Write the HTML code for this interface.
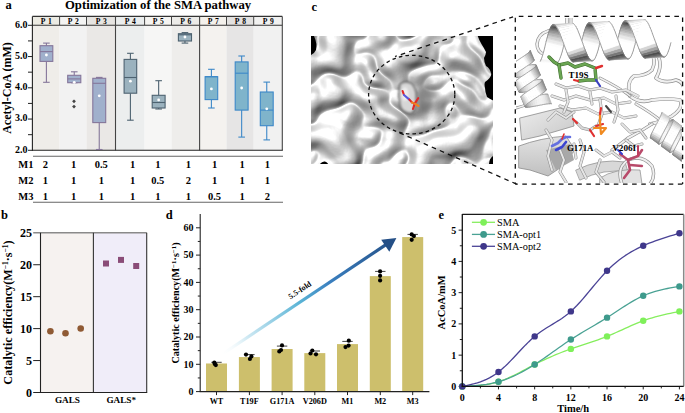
<!DOCTYPE html>
<html><head><meta charset="utf-8"><style>
html,body{margin:0;padding:0;background:#fff;}
svg{display:block;font-family:"Liberation Serif", serif;}
</style></head><body>
<svg width="685" height="413" viewBox="0 0 685 413">
<text x="5.60" y="9.20" font-size="12.5" font-weight="bold" text-anchor="start" fill="#000" >a</text>
<text x="65.00" y="8.90" font-size="12.7" font-weight="bold" text-anchor="start" fill="#000" >Optimization of the SMA pathway</text>
<rect x="32.40" y="16.40" width="27.20" height="8.80" fill="#ecebe3" stroke="none" stroke-width="0" />
<rect x="32.40" y="25.20" width="27.20" height="125.10" fill="#efede9" stroke="none" stroke-width="0" />
<rect x="59.60" y="16.40" width="26.90" height="8.80" fill="#f4f4f3" stroke="none" stroke-width="0" />
<rect x="59.60" y="25.20" width="26.90" height="125.10" fill="#f2f2f2" stroke="none" stroke-width="0" />
<rect x="86.50" y="16.40" width="29.00" height="8.80" fill="#e6e4e1" stroke="none" stroke-width="0" />
<rect x="86.50" y="25.20" width="29.00" height="125.10" fill="#eae8e6" stroke="none" stroke-width="0" />
<rect x="115.50" y="16.40" width="29.10" height="8.80" fill="#eaeded" stroke="none" stroke-width="0" />
<rect x="115.50" y="25.20" width="29.10" height="125.10" fill="#eceeee" stroke="none" stroke-width="0" />
<rect x="144.60" y="16.40" width="26.90" height="8.80" fill="#f5f4f1" stroke="none" stroke-width="0" />
<rect x="144.60" y="25.20" width="26.90" height="125.10" fill="#f6f6f5" stroke="none" stroke-width="0" />
<rect x="171.50" y="16.40" width="28.10" height="8.80" fill="#ecebe8" stroke="none" stroke-width="0" />
<rect x="171.50" y="25.20" width="28.10" height="125.10" fill="#eeedeb" stroke="none" stroke-width="0" />
<rect x="199.60" y="16.40" width="26.90" height="8.80" fill="#f4f1ec" stroke="none" stroke-width="0" />
<rect x="199.60" y="25.20" width="26.90" height="125.10" fill="#f4f2ef" stroke="none" stroke-width="0" />
<rect x="226.50" y="16.40" width="27.20" height="8.80" fill="#e2e1e0" stroke="none" stroke-width="0" />
<rect x="226.50" y="25.20" width="27.20" height="125.10" fill="#e6e5e5" stroke="none" stroke-width="0" />
<rect x="253.70" y="16.40" width="28.60" height="8.80" fill="#f1f1f0" stroke="none" stroke-width="0" />
<rect x="253.70" y="25.20" width="28.60" height="125.10" fill="#f1f1f1" stroke="none" stroke-width="0" />
<text x="46.60" y="23.60" font-size="7.6" font-weight="bold" text-anchor="middle" fill="#000" letter-spacing="0.6">P 1</text>
<text x="73.65" y="23.60" font-size="7.6" font-weight="bold" text-anchor="middle" fill="#000" letter-spacing="0.6">P 2</text>
<text x="101.60" y="23.60" font-size="7.6" font-weight="bold" text-anchor="middle" fill="#000" letter-spacing="0.6">P 3</text>
<text x="130.65" y="23.60" font-size="7.6" font-weight="bold" text-anchor="middle" fill="#000" letter-spacing="0.6">P 4</text>
<text x="158.65" y="23.60" font-size="7.6" font-weight="bold" text-anchor="middle" fill="#000" letter-spacing="0.6">P 5</text>
<text x="186.15" y="23.60" font-size="7.6" font-weight="bold" text-anchor="middle" fill="#000" letter-spacing="0.6">P 6</text>
<text x="213.65" y="23.60" font-size="7.6" font-weight="bold" text-anchor="middle" fill="#000" letter-spacing="0.6">P 7</text>
<text x="240.70" y="23.60" font-size="7.6" font-weight="bold" text-anchor="middle" fill="#000" letter-spacing="0.6">P 8</text>
<text x="268.60" y="23.60" font-size="7.6" font-weight="bold" text-anchor="middle" fill="#000" letter-spacing="0.6">P 9</text>
<line x1="32.40" y1="16.40" x2="282.30" y2="16.40" stroke="#333" stroke-width="1.1" />
<line x1="32.40" y1="25.20" x2="282.30" y2="25.20" stroke="#333" stroke-width="1.1" />
<line x1="59.60" y1="16.40" x2="59.60" y2="25.20" stroke="#444" stroke-width="1.0" />
<line x1="86.50" y1="16.40" x2="86.50" y2="25.20" stroke="#444" stroke-width="1.0" />
<line x1="115.50" y1="16.40" x2="115.50" y2="150.30" stroke="#444" stroke-width="1.1" />
<line x1="144.60" y1="16.40" x2="144.60" y2="25.20" stroke="#444" stroke-width="1.0" />
<line x1="171.50" y1="16.40" x2="171.50" y2="25.20" stroke="#444" stroke-width="1.0" />
<line x1="199.60" y1="16.40" x2="199.60" y2="150.30" stroke="#444" stroke-width="1.1" />
<line x1="226.50" y1="16.40" x2="226.50" y2="25.20" stroke="#444" stroke-width="1.0" />
<line x1="253.70" y1="16.40" x2="253.70" y2="25.20" stroke="#444" stroke-width="1.0" />
<line x1="282.30" y1="16.40" x2="282.30" y2="150.30" stroke="#444" stroke-width="1.1" />
<line x1="32.40" y1="16.40" x2="32.40" y2="150.80" stroke="#222" stroke-width="1.1" />
<line x1="31.90" y1="150.30" x2="282.80" y2="150.30" stroke="#222" stroke-width="1.1" />
<line x1="28.00" y1="150.30" x2="32.40" y2="150.30" stroke="#222" stroke-width="1.0" />
<text x="27.60" y="152.60" font-size="10" font-weight="bold" text-anchor="end" fill="#000" >2.0</text>
<line x1="28.00" y1="134.68" x2="32.40" y2="134.68" stroke="#222" stroke-width="1.0" />
<line x1="28.00" y1="119.05" x2="32.40" y2="119.05" stroke="#222" stroke-width="1.0" />
<text x="27.60" y="121.35" font-size="10" font-weight="bold" text-anchor="end" fill="#000" >3.0</text>
<line x1="28.00" y1="103.42" x2="32.40" y2="103.42" stroke="#222" stroke-width="1.0" />
<line x1="28.00" y1="87.80" x2="32.40" y2="87.80" stroke="#222" stroke-width="1.0" />
<text x="27.60" y="90.10" font-size="10" font-weight="bold" text-anchor="end" fill="#000" >4.0</text>
<line x1="28.00" y1="72.17" x2="32.40" y2="72.17" stroke="#222" stroke-width="1.0" />
<line x1="28.00" y1="56.55" x2="32.40" y2="56.55" stroke="#222" stroke-width="1.0" />
<text x="27.60" y="58.85" font-size="10" font-weight="bold" text-anchor="end" fill="#000" >5.0</text>
<line x1="28.00" y1="40.92" x2="32.40" y2="40.92" stroke="#222" stroke-width="1.0" />
<line x1="28.00" y1="25.30" x2="32.40" y2="25.30" stroke="#222" stroke-width="1.0" />
<text x="27.60" y="27.60" font-size="10" font-weight="bold" text-anchor="end" fill="#000" >6.0</text>
<text transform="translate(11.2,88) rotate(-90)" font-size="12" font-weight="bold" text-anchor="middle">Acetyl-CoA (mM)</text>
<line x1="46.40" y1="43.10" x2="46.40" y2="45.70" stroke="#85769a" stroke-width="1.1" />
<line x1="46.40" y1="61.40" x2="46.40" y2="82.30" stroke="#85769a" stroke-width="1.1" />
<line x1="43.10" y1="43.10" x2="49.70" y2="43.10" stroke="#85769a" stroke-width="1.1" />
<line x1="43.10" y1="82.30" x2="49.70" y2="82.30" stroke="#85769a" stroke-width="1.1" />
<rect x="40.00" y="45.70" width="12.80" height="15.70" fill="#a0b0cc" stroke="#85769a" stroke-width="1.1" />
<line x1="40.00" y1="51.60" x2="52.80" y2="51.60" stroke="#85769a" stroke-width="1.1" />
<circle cx="46.40" cy="55.00" r="1.4" fill="#fff"/>
<line x1="74.25" y1="71.80" x2="74.25" y2="75.30" stroke="#85769a" stroke-width="1.1" />
<line x1="74.25" y1="82.70" x2="74.25" y2="82.70" stroke="#85769a" stroke-width="1.1" />
<line x1="70.95" y1="71.80" x2="77.55" y2="71.80" stroke="#85769a" stroke-width="1.1" />
<line x1="70.95" y1="82.70" x2="77.55" y2="82.70" stroke="#85769a" stroke-width="1.1" />
<rect x="67.70" y="75.30" width="13.10" height="7.40" fill="#a0b0cc" stroke="#85769a" stroke-width="1.1" />
<line x1="67.70" y1="78.90" x2="80.80" y2="78.90" stroke="#85769a" stroke-width="1.1" />
<circle cx="74.25" cy="82.30" r="1.4" fill="#fff"/>
<line x1="99.25" y1="77.40" x2="99.25" y2="78.30" stroke="#85769a" stroke-width="1.1" />
<line x1="99.25" y1="122.60" x2="99.25" y2="149.50" stroke="#85769a" stroke-width="1.1" />
<line x1="95.95" y1="77.40" x2="102.55" y2="77.40" stroke="#85769a" stroke-width="1.1" />
<line x1="95.95" y1="149.50" x2="102.55" y2="149.50" stroke="#85769a" stroke-width="1.1" />
<rect x="92.80" y="78.30" width="12.90" height="44.30" fill="#a0b0cc" stroke="#85769a" stroke-width="1.1" />
<line x1="92.80" y1="83.30" x2="105.70" y2="83.30" stroke="#85769a" stroke-width="1.1" />
<circle cx="99.25" cy="95.80" r="1.4" fill="#fff"/>
<line x1="130.40" y1="53.30" x2="130.40" y2="59.40" stroke="#4d6270" stroke-width="1.1" />
<line x1="130.40" y1="93.20" x2="130.40" y2="120.20" stroke="#4d6270" stroke-width="1.1" />
<line x1="127.10" y1="53.30" x2="133.70" y2="53.30" stroke="#4d6270" stroke-width="1.1" />
<line x1="127.10" y1="120.20" x2="133.70" y2="120.20" stroke="#4d6270" stroke-width="1.1" />
<rect x="124.10" y="59.40" width="12.60" height="33.80" fill="#9bb2be" stroke="#4d6270" stroke-width="1.1" />
<line x1="124.10" y1="77.50" x2="136.70" y2="77.50" stroke="#4d6270" stroke-width="1.1" />
<circle cx="130.40" cy="81.20" r="1.4" fill="#fff"/>
<line x1="158.65" y1="80.70" x2="158.65" y2="95.30" stroke="#4d6270" stroke-width="1.1" />
<line x1="158.65" y1="108.00" x2="158.65" y2="109.00" stroke="#4d6270" stroke-width="1.1" />
<line x1="155.35" y1="80.70" x2="161.95" y2="80.70" stroke="#4d6270" stroke-width="1.1" />
<line x1="155.35" y1="109.00" x2="161.95" y2="109.00" stroke="#4d6270" stroke-width="1.1" />
<rect x="152.20" y="95.30" width="12.90" height="12.70" fill="#9bb2be" stroke="#4d6270" stroke-width="1.1" />
<line x1="152.20" y1="102.50" x2="165.10" y2="102.50" stroke="#4d6270" stroke-width="1.1" />
<circle cx="158.65" cy="99.90" r="1.4" fill="#fff"/>
<line x1="184.95" y1="32.60" x2="184.95" y2="33.70" stroke="#4d6270" stroke-width="1.1" />
<line x1="184.95" y1="41.00" x2="184.95" y2="43.10" stroke="#4d6270" stroke-width="1.1" />
<line x1="181.65" y1="32.60" x2="188.25" y2="32.60" stroke="#4d6270" stroke-width="1.1" />
<line x1="181.65" y1="43.10" x2="188.25" y2="43.10" stroke="#4d6270" stroke-width="1.1" />
<rect x="178.40" y="33.70" width="13.10" height="7.30" fill="#9bb2be" stroke="#4d6270" stroke-width="1.1" />
<line x1="178.40" y1="34.80" x2="191.50" y2="34.80" stroke="#4d6270" stroke-width="1.1" />
<circle cx="184.95" cy="37.00" r="1.4" fill="#fff"/>
<line x1="211.40" y1="69.30" x2="211.40" y2="76.70" stroke="#3d88c8" stroke-width="1.1" />
<line x1="211.40" y1="99.60" x2="211.40" y2="108.00" stroke="#3d88c8" stroke-width="1.1" />
<line x1="208.10" y1="69.30" x2="214.70" y2="69.30" stroke="#3d88c8" stroke-width="1.1" />
<line x1="208.10" y1="108.00" x2="214.70" y2="108.00" stroke="#3d88c8" stroke-width="1.1" />
<rect x="205.10" y="76.70" width="12.60" height="22.90" fill="#7fb4cb" stroke="#3d88c8" stroke-width="1.1" />
<line x1="205.10" y1="76.70" x2="217.70" y2="76.70" stroke="#3d88c8" stroke-width="1.1" />
<circle cx="211.40" cy="88.90" r="1.4" fill="#fff"/>
<line x1="241.65" y1="56.00" x2="241.65" y2="61.90" stroke="#3d88c8" stroke-width="1.1" />
<line x1="241.65" y1="110.10" x2="241.65" y2="137.10" stroke="#3d88c8" stroke-width="1.1" />
<line x1="238.35" y1="56.00" x2="244.95" y2="56.00" stroke="#3d88c8" stroke-width="1.1" />
<line x1="238.35" y1="137.10" x2="244.95" y2="137.10" stroke="#3d88c8" stroke-width="1.1" />
<rect x="235.20" y="61.90" width="12.90" height="48.20" fill="#7fb4cb" stroke="#3d88c8" stroke-width="1.1" />
<line x1="235.20" y1="73.20" x2="248.10" y2="73.20" stroke="#3d88c8" stroke-width="1.1" />
<circle cx="241.65" cy="88.00" r="1.4" fill="#fff"/>
<line x1="266.75" y1="82.10" x2="266.75" y2="92.00" stroke="#3d88c8" stroke-width="1.1" />
<line x1="266.75" y1="125.70" x2="266.75" y2="139.90" stroke="#3d88c8" stroke-width="1.1" />
<line x1="263.45" y1="82.10" x2="270.05" y2="82.10" stroke="#3d88c8" stroke-width="1.1" />
<line x1="263.45" y1="139.90" x2="270.05" y2="139.90" stroke="#3d88c8" stroke-width="1.1" />
<rect x="260.30" y="92.00" width="12.90" height="33.70" fill="#7fb4cb" stroke="#3d88c8" stroke-width="1.1" />
<line x1="260.30" y1="110.10" x2="273.20" y2="110.10" stroke="#3d88c8" stroke-width="1.1" />
<circle cx="266.75" cy="108.80" r="1.4" fill="#fff"/>
<path d="M74 99.39999999999999 L75.9 101.3 L74 103.2 L72.1 101.3 Z" fill="#444"/>
<path d="M74 104.69999999999999 L75.9 106.6 L74 108.5 L72.1 106.6 Z" fill="#444"/>
<line x1="33.00" y1="156.30" x2="283.00" y2="156.30" stroke="#666" stroke-width="1.1" />
<line x1="33.00" y1="202.30" x2="283.00" y2="202.30" stroke="#666" stroke-width="1.1" />
<text x="33.40" y="168.30" font-size="10.5" font-weight="bold" text-anchor="end" fill="#000" >M1</text>
<text x="45.30" y="168.30" font-size="10.5" font-weight="bold" text-anchor="middle" fill="#000" >2</text>
<text x="73.70" y="168.30" font-size="10.5" font-weight="bold" text-anchor="middle" fill="#000" >1</text>
<text x="101.30" y="168.30" font-size="10.5" font-weight="bold" text-anchor="middle" fill="#000" >0.5</text>
<text x="132.60" y="168.30" font-size="10.5" font-weight="bold" text-anchor="middle" fill="#000" >1</text>
<text x="157.80" y="168.30" font-size="10.5" font-weight="bold" text-anchor="middle" fill="#000" >1</text>
<text x="188.30" y="168.30" font-size="10.5" font-weight="bold" text-anchor="middle" fill="#000" >1</text>
<text x="214.50" y="168.30" font-size="10.5" font-weight="bold" text-anchor="middle" fill="#000" >1</text>
<text x="242.20" y="168.30" font-size="10.5" font-weight="bold" text-anchor="middle" fill="#000" >1</text>
<text x="267.40" y="168.30" font-size="10.5" font-weight="bold" text-anchor="middle" fill="#000" >1</text>
<text x="33.40" y="184.20" font-size="10.5" font-weight="bold" text-anchor="end" fill="#000" >M2</text>
<text x="45.30" y="184.20" font-size="10.5" font-weight="bold" text-anchor="middle" fill="#000" >1</text>
<text x="73.70" y="184.20" font-size="10.5" font-weight="bold" text-anchor="middle" fill="#000" >1</text>
<text x="101.30" y="184.20" font-size="10.5" font-weight="bold" text-anchor="middle" fill="#000" >1</text>
<text x="132.60" y="184.20" font-size="10.5" font-weight="bold" text-anchor="middle" fill="#000" >1</text>
<text x="157.80" y="184.20" font-size="10.5" font-weight="bold" text-anchor="middle" fill="#000" >0.5</text>
<text x="188.30" y="184.20" font-size="10.5" font-weight="bold" text-anchor="middle" fill="#000" >2</text>
<text x="214.50" y="184.20" font-size="10.5" font-weight="bold" text-anchor="middle" fill="#000" >1</text>
<text x="242.20" y="184.20" font-size="10.5" font-weight="bold" text-anchor="middle" fill="#000" >1</text>
<text x="267.40" y="184.20" font-size="10.5" font-weight="bold" text-anchor="middle" fill="#000" >1</text>
<text x="33.40" y="200.10" font-size="10.5" font-weight="bold" text-anchor="end" fill="#000" >M3</text>
<text x="45.30" y="200.10" font-size="10.5" font-weight="bold" text-anchor="middle" fill="#000" >1</text>
<text x="73.70" y="200.10" font-size="10.5" font-weight="bold" text-anchor="middle" fill="#000" >1</text>
<text x="101.30" y="200.10" font-size="10.5" font-weight="bold" text-anchor="middle" fill="#000" >1</text>
<text x="132.60" y="200.10" font-size="10.5" font-weight="bold" text-anchor="middle" fill="#000" >1</text>
<text x="157.80" y="200.10" font-size="10.5" font-weight="bold" text-anchor="middle" fill="#000" >1</text>
<text x="188.30" y="200.10" font-size="10.5" font-weight="bold" text-anchor="middle" fill="#000" >1</text>
<text x="214.50" y="200.10" font-size="10.5" font-weight="bold" text-anchor="middle" fill="#000" >0.5</text>
<text x="242.20" y="200.10" font-size="10.5" font-weight="bold" text-anchor="middle" fill="#000" >1</text>
<text x="267.40" y="200.10" font-size="10.5" font-weight="bold" text-anchor="middle" fill="#000" >2</text>
<text x="1.00" y="219.20" font-size="12.5" font-weight="bold" text-anchor="start" fill="#000" >b</text>
<rect x="40.50" y="232.80" width="52.90" height="159.70" fill="#f6f2f0" stroke="none" stroke-width="0" />
<rect x="93.40" y="232.80" width="53.30" height="159.70" fill="#f0edf9" stroke="none" stroke-width="0" />
<line x1="33.20" y1="232.80" x2="146.70" y2="232.80" stroke="#8a8a8a" stroke-width="1.4" />
<line x1="93.40" y1="232.80" x2="93.40" y2="392.50" stroke="#333" stroke-width="1.1" />
<line x1="146.70" y1="232.80" x2="146.70" y2="392.50" stroke="#333" stroke-width="1.1" />
<line x1="40.50" y1="232.80" x2="40.50" y2="392.50" stroke="#222" stroke-width="1.1" />
<line x1="40.00" y1="392.50" x2="147.20" y2="392.50" stroke="#222" stroke-width="1.1" />
<line x1="33.20" y1="392.50" x2="40.50" y2="392.50" stroke="#222" stroke-width="1.0" />
<text x="32.00" y="396.80" font-size="12" font-weight="bold" text-anchor="end" fill="#000" >0</text>
<line x1="33.20" y1="360.56" x2="40.50" y2="360.56" stroke="#222" stroke-width="1.0" />
<text x="32.00" y="364.86" font-size="12" font-weight="bold" text-anchor="end" fill="#000" >5</text>
<line x1="33.20" y1="328.62" x2="40.50" y2="328.62" stroke="#222" stroke-width="1.0" />
<text x="32.00" y="332.92" font-size="12" font-weight="bold" text-anchor="end" fill="#000" >10</text>
<line x1="33.20" y1="296.68" x2="40.50" y2="296.68" stroke="#222" stroke-width="1.0" />
<text x="32.00" y="300.98" font-size="12" font-weight="bold" text-anchor="end" fill="#000" >15</text>
<line x1="33.20" y1="264.74" x2="40.50" y2="264.74" stroke="#222" stroke-width="1.0" />
<text x="32.00" y="269.04" font-size="12" font-weight="bold" text-anchor="end" fill="#000" >20</text>
<text x="32.00" y="237.10" font-size="12" font-weight="bold" text-anchor="end" fill="#000" >25</text>
<text transform="translate(12.0,312.5) rotate(-90)" font-size="12.2" font-weight="bold" text-anchor="middle">Catalytic efficiency(M<tspan font-size="7.5" dy="-4">−1</tspan><tspan dy="4">·s</tspan><tspan font-size="7.5" dy="-4">−1</tspan><tspan dy="4">)</tspan></text>
<circle cx="50.4" cy="331.2" r="3.3" fill="#8f5a34"/>
<circle cx="65.5" cy="333.2" r="3.3" fill="#8f5a34"/>
<circle cx="80.7" cy="328.5" r="3.3" fill="#8f5a34"/>
<rect x="103.00" y="260.50" width="6.00" height="6.00" fill="#8a4c78" stroke="none" stroke-width="0" />
<rect x="118.00" y="256.90" width="6.00" height="6.00" fill="#8a4c78" stroke="none" stroke-width="0" />
<rect x="133.20" y="263.00" width="6.00" height="6.00" fill="#8a4c78" stroke="none" stroke-width="0" />
<text x="67.40" y="403.20" font-size="9.2" font-weight="bold" text-anchor="middle" fill="#000" >GALS</text>
<text x="121.20" y="403.20" font-size="9.2" font-weight="bold" text-anchor="middle" fill="#000" >GALS*</text>
<text x="165.80" y="219.30" font-size="12.5" font-weight="bold" text-anchor="start" fill="#000" >d</text>
<defs><linearGradient id="ag" gradientUnits="userSpaceOnUse" x1="221" y1="355" x2="396" y2="238"><stop offset="0" stop-color="#ffffff" stop-opacity="0"/><stop offset="0.15" stop-color="#cfe9f3"/><stop offset="0.45" stop-color="#5ab4d6"/><stop offset="0.62" stop-color="#3a7fbf"/><stop offset="1" stop-color="#244f86"/></linearGradient></defs>
<line x1="221" y1="355" x2="386" y2="244.6" stroke="url(#ag)" stroke-width="3.2"/>
<path d="M396.4 237.9 L381.2 239.8 L389.3 251.8 Z" fill="#244f86"/>
<text transform="translate(301.2,292.3) rotate(-33.6)" font-size="7.9" font-weight="bold" text-anchor="middle">5.5-fold</text>
<rect x="206.00" y="363.48" width="21.00" height="28.12" fill="#cdbf6c" stroke="none" stroke-width="0" />
<rect x="238.90" y="357.07" width="21.00" height="34.53" fill="#cdbf6c" stroke="none" stroke-width="0" />
<rect x="271.60" y="349.01" width="21.00" height="42.59" fill="#cdbf6c" stroke="none" stroke-width="0" />
<rect x="304.30" y="353.11" width="21.00" height="38.49" fill="#cdbf6c" stroke="none" stroke-width="0" />
<rect x="337.00" y="344.10" width="21.00" height="47.50" fill="#cdbf6c" stroke="none" stroke-width="0" />
<rect x="369.80" y="276.12" width="21.00" height="115.48" fill="#cdbf6c" stroke="none" stroke-width="0" />
<rect x="402.20" y="237.08" width="21.00" height="154.52" fill="#cdbf6c" stroke="none" stroke-width="0" />
<line x1="211.30" y1="362.30" x2="221.70" y2="362.30" stroke="#444" stroke-width="1.0" />
<circle cx="214.3" cy="362.6" r="2.1" fill="#000"/>
<circle cx="215.8" cy="365.1" r="2.1" fill="#000"/>
<circle cx="214.8" cy="364" r="2.1" fill="#000"/>
<line x1="216.50" y1="391.60" x2="216.50" y2="395.10" stroke="#222" stroke-width="1.0" />
<text x="216.50" y="403.80" font-size="8.2" font-weight="bold" text-anchor="middle" fill="#000" >WT</text>
<line x1="244.20" y1="354.60" x2="254.60" y2="354.60" stroke="#444" stroke-width="1.0" />
<circle cx="246.0" cy="354.6" r="2.1" fill="#000"/>
<circle cx="251.4" cy="356.4" r="2.1" fill="#000"/>
<circle cx="249.9" cy="359.0" r="2.1" fill="#000"/>
<line x1="249.40" y1="391.60" x2="249.40" y2="395.10" stroke="#222" stroke-width="1.0" />
<text x="249.40" y="403.80" font-size="8.2" font-weight="bold" text-anchor="middle" fill="#000" >T19F</text>
<line x1="276.90" y1="346.10" x2="287.30" y2="346.10" stroke="#444" stroke-width="1.0" />
<circle cx="282.0" cy="345.4" r="2.1" fill="#000"/>
<circle cx="281.0" cy="350.0" r="2.1" fill="#000"/>
<circle cx="279.3" cy="351.4" r="2.1" fill="#000"/>
<line x1="282.10" y1="391.60" x2="282.10" y2="395.10" stroke="#222" stroke-width="1.0" />
<text x="282.10" y="403.80" font-size="8.2" font-weight="bold" text-anchor="middle" fill="#000" >G171A</text>
<line x1="309.60" y1="351.00" x2="320.00" y2="351.00" stroke="#444" stroke-width="1.0" />
<circle cx="312.3" cy="350.6" r="2.1" fill="#000"/>
<circle cx="310.5" cy="353.5" r="2.1" fill="#000"/>
<circle cx="316.0" cy="354.3" r="2.1" fill="#000"/>
<line x1="314.80" y1="391.60" x2="314.80" y2="395.10" stroke="#222" stroke-width="1.0" />
<text x="314.80" y="403.80" font-size="8.2" font-weight="bold" text-anchor="middle" fill="#000" >V206D</text>
<line x1="342.30" y1="341.40" x2="352.70" y2="341.40" stroke="#444" stroke-width="1.0" />
<circle cx="348.8" cy="340.7" r="2.1" fill="#000"/>
<circle cx="348.6" cy="345.6" r="2.1" fill="#000"/>
<circle cx="345.5" cy="347.1" r="2.1" fill="#000"/>
<line x1="347.50" y1="391.60" x2="347.50" y2="395.10" stroke="#222" stroke-width="1.0" />
<text x="347.50" y="403.80" font-size="8.2" font-weight="bold" text-anchor="middle" fill="#000" >M1</text>
<line x1="375.10" y1="271.40" x2="385.50" y2="271.40" stroke="#444" stroke-width="1.0" />
<circle cx="380.1" cy="271.4" r="2.1" fill="#000"/>
<circle cx="380.1" cy="275.8" r="2.1" fill="#000"/>
<circle cx="380.1" cy="280.4" r="2.1" fill="#000"/>
<line x1="380.30" y1="391.60" x2="380.30" y2="395.10" stroke="#222" stroke-width="1.0" />
<text x="380.30" y="403.80" font-size="8.2" font-weight="bold" text-anchor="middle" fill="#000" >M2</text>
<line x1="407.50" y1="234.40" x2="417.90" y2="234.40" stroke="#444" stroke-width="1.0" />
<circle cx="411.7" cy="234.4" r="2.1" fill="#000"/>
<circle cx="413.9" cy="236.1" r="2.1" fill="#000"/>
<circle cx="411.7" cy="239.8" r="2.1" fill="#000"/>
<line x1="412.70" y1="391.60" x2="412.70" y2="395.10" stroke="#222" stroke-width="1.0" />
<text x="412.70" y="403.80" font-size="8.2" font-weight="bold" text-anchor="middle" fill="#000" >M3</text>
<line x1="200.20" y1="214.00" x2="200.20" y2="392.10" stroke="#222" stroke-width="1.1" />
<line x1="199.70" y1="391.60" x2="429.40" y2="391.60" stroke="#222" stroke-width="1.1" />
<line x1="196.00" y1="391.60" x2="200.20" y2="391.60" stroke="#222" stroke-width="1.0" />
<text x="193.60" y="394.90" font-size="10" font-weight="bold" text-anchor="end" fill="#000" >0</text>
<line x1="197.80" y1="377.95" x2="200.20" y2="377.95" stroke="#222" stroke-width="1.0" />
<line x1="196.00" y1="364.30" x2="200.20" y2="364.30" stroke="#222" stroke-width="1.0" />
<text x="193.60" y="367.60" font-size="10" font-weight="bold" text-anchor="end" fill="#000" >10</text>
<line x1="197.80" y1="350.65" x2="200.20" y2="350.65" stroke="#222" stroke-width="1.0" />
<line x1="196.00" y1="337.00" x2="200.20" y2="337.00" stroke="#222" stroke-width="1.0" />
<text x="193.60" y="340.30" font-size="10" font-weight="bold" text-anchor="end" fill="#000" >20</text>
<line x1="197.80" y1="323.35" x2="200.20" y2="323.35" stroke="#222" stroke-width="1.0" />
<line x1="196.00" y1="309.70" x2="200.20" y2="309.70" stroke="#222" stroke-width="1.0" />
<text x="193.60" y="313.00" font-size="10" font-weight="bold" text-anchor="end" fill="#000" >30</text>
<line x1="197.80" y1="296.05" x2="200.20" y2="296.05" stroke="#222" stroke-width="1.0" />
<line x1="196.00" y1="282.40" x2="200.20" y2="282.40" stroke="#222" stroke-width="1.0" />
<text x="193.60" y="285.70" font-size="10" font-weight="bold" text-anchor="end" fill="#000" >40</text>
<line x1="197.80" y1="268.75" x2="200.20" y2="268.75" stroke="#222" stroke-width="1.0" />
<line x1="196.00" y1="255.10" x2="200.20" y2="255.10" stroke="#222" stroke-width="1.0" />
<text x="193.60" y="258.40" font-size="10" font-weight="bold" text-anchor="end" fill="#000" >50</text>
<line x1="197.80" y1="241.45" x2="200.20" y2="241.45" stroke="#222" stroke-width="1.0" />
<line x1="196.00" y1="227.80" x2="200.20" y2="227.80" stroke="#222" stroke-width="1.0" />
<text x="193.60" y="231.10" font-size="10" font-weight="bold" text-anchor="end" fill="#000" >60</text>
<text transform="translate(179.4,302.9) rotate(-90)" font-size="10.1" font-weight="bold" text-anchor="middle">Catalytic efficiency(M<tspan font-size="7" dy="-3.5">−1</tspan><tspan dy="3.5">·s</tspan><tspan font-size="7" dy="-3.5">−1</tspan><tspan dy="3.5">)</tspan></text>
<text x="438.60" y="219.00" font-size="12.5" font-weight="bold" text-anchor="start" fill="#000" >e</text>
<line x1="458.60" y1="386.40" x2="462.30" y2="386.40" stroke="#222" stroke-width="1.0" />
<text x="456.30" y="389.90" font-size="10" font-weight="bold" text-anchor="end" fill="#000" >0</text>
<line x1="459.80" y1="370.77" x2="462.30" y2="370.77" stroke="#222" stroke-width="1.0" />
<line x1="458.60" y1="355.15" x2="462.30" y2="355.15" stroke="#222" stroke-width="1.0" />
<text x="456.30" y="358.65" font-size="10" font-weight="bold" text-anchor="end" fill="#000" >1</text>
<line x1="459.80" y1="339.52" x2="462.30" y2="339.52" stroke="#222" stroke-width="1.0" />
<line x1="458.60" y1="323.90" x2="462.30" y2="323.90" stroke="#222" stroke-width="1.0" />
<text x="456.30" y="327.40" font-size="10" font-weight="bold" text-anchor="end" fill="#000" >2</text>
<line x1="459.80" y1="308.27" x2="462.30" y2="308.27" stroke="#222" stroke-width="1.0" />
<line x1="458.60" y1="292.65" x2="462.30" y2="292.65" stroke="#222" stroke-width="1.0" />
<text x="456.30" y="296.15" font-size="10" font-weight="bold" text-anchor="end" fill="#000" >3</text>
<line x1="459.80" y1="277.02" x2="462.30" y2="277.02" stroke="#222" stroke-width="1.0" />
<line x1="458.60" y1="261.40" x2="462.30" y2="261.40" stroke="#222" stroke-width="1.0" />
<text x="456.30" y="264.90" font-size="10" font-weight="bold" text-anchor="end" fill="#000" >4</text>
<line x1="459.80" y1="245.77" x2="462.30" y2="245.77" stroke="#222" stroke-width="1.0" />
<line x1="458.60" y1="230.15" x2="462.30" y2="230.15" stroke="#222" stroke-width="1.0" />
<text x="456.30" y="233.65" font-size="10" font-weight="bold" text-anchor="end" fill="#000" >5</text>
<line x1="462.30" y1="386.40" x2="462.30" y2="389.40" stroke="#222" stroke-width="1.0" />
<text x="462.30" y="400.80" font-size="10" font-weight="bold" text-anchor="middle" fill="#000" >0</text>
<line x1="480.39" y1="386.40" x2="480.39" y2="388.40" stroke="#222" stroke-width="1.0" />
<line x1="498.48" y1="386.40" x2="498.48" y2="389.40" stroke="#222" stroke-width="1.0" />
<text x="498.48" y="400.80" font-size="10" font-weight="bold" text-anchor="middle" fill="#000" >4</text>
<line x1="516.58" y1="386.40" x2="516.58" y2="388.40" stroke="#222" stroke-width="1.0" />
<line x1="534.67" y1="386.40" x2="534.67" y2="389.40" stroke="#222" stroke-width="1.0" />
<text x="534.67" y="400.80" font-size="10" font-weight="bold" text-anchor="middle" fill="#000" >8</text>
<line x1="552.76" y1="386.40" x2="552.76" y2="388.40" stroke="#222" stroke-width="1.0" />
<line x1="570.85" y1="386.40" x2="570.85" y2="389.40" stroke="#222" stroke-width="1.0" />
<text x="570.85" y="400.80" font-size="10" font-weight="bold" text-anchor="middle" fill="#000" >12</text>
<line x1="588.94" y1="386.40" x2="588.94" y2="388.40" stroke="#222" stroke-width="1.0" />
<line x1="607.03" y1="386.40" x2="607.03" y2="389.40" stroke="#222" stroke-width="1.0" />
<text x="607.03" y="400.80" font-size="10" font-weight="bold" text-anchor="middle" fill="#000" >16</text>
<line x1="625.12" y1="386.40" x2="625.12" y2="388.40" stroke="#222" stroke-width="1.0" />
<line x1="643.22" y1="386.40" x2="643.22" y2="389.40" stroke="#222" stroke-width="1.0" />
<text x="643.22" y="400.80" font-size="10" font-weight="bold" text-anchor="middle" fill="#000" >20</text>
<line x1="661.31" y1="386.40" x2="661.31" y2="388.40" stroke="#222" stroke-width="1.0" />
<line x1="679.40" y1="386.40" x2="679.40" y2="389.40" stroke="#222" stroke-width="1.0" />
<text x="679.40" y="400.80" font-size="10" font-weight="bold" text-anchor="middle" fill="#000" >24</text>
<text x="573.20" y="412.00" font-size="10.5" font-weight="bold" text-anchor="middle" fill="#000" >Time/h</text>
<text transform="translate(445.2,302.4) rotate(-90)" font-size="10.5" font-weight="bold" text-anchor="middle">AcCoA/mM</text>
<path d="M462.30 386.40 L465.32 386.29 L468.33 386.17 L471.35 386.02 L474.36 385.84 L477.38 385.61 L480.39 385.32 L483.41 384.97 L486.42 384.53 L489.44 383.99 L492.45 383.35 L495.47 382.60 L498.48 381.71 L501.50 380.69 L504.51 379.54 L507.53 378.29 L510.54 376.94 L513.56 375.50 L516.58 374.01 L519.59 372.46 L522.61 370.88 L525.62 369.28 L528.64 367.68 L531.65 366.09 L534.67 364.52 L537.68 363.00 L540.70 361.52 L543.71 360.08 L546.73 358.68 L549.74 357.32 L552.76 356.00 L555.77 354.72 L558.79 353.48 L561.80 352.27 L564.82 351.11 L567.83 349.99 L570.85 348.90 L573.87 347.85 L576.88 346.83 L579.90 345.83 L582.91 344.84 L585.93 343.86 L588.94 342.87 L591.96 341.87 L594.97 340.85 L597.99 339.80 L601.00 338.72 L604.02 337.59 L607.03 336.40 L610.05 335.16 L613.06 333.86 L616.08 332.53 L619.09 331.17 L622.11 329.80 L625.12 328.42 L628.14 327.05 L631.16 325.71 L634.17 324.40 L637.19 323.13 L640.20 321.92 L643.22 320.77 L646.23 319.71 L649.25 318.72 L652.26 317.80 L655.28 316.93 L658.29 316.12 L661.31 315.36 L664.32 314.64 L667.34 313.95 L670.35 313.29 L673.37 312.65 L676.38 312.02 L679.40 311.40" fill="none" stroke="#86ee5e" stroke-width="1.3" stroke-linejoin="round"/>
<circle cx="462.30" cy="386.40" r="3.2" fill="#7ff05a"/>
<circle cx="498.48" cy="381.71" r="3.2" fill="#7ff05a"/>
<circle cx="534.67" cy="364.52" r="3.2" fill="#7ff05a"/>
<circle cx="570.85" cy="348.90" r="3.2" fill="#7ff05a"/>
<circle cx="607.03" cy="336.40" r="3.2" fill="#7ff05a"/>
<circle cx="643.22" cy="320.77" r="3.2" fill="#7ff05a"/>
<circle cx="679.40" cy="311.40" r="3.2" fill="#7ff05a"/>
<path d="M462.30 386.40 L465.32 386.23 L468.33 386.06 L471.35 385.86 L474.36 385.64 L477.38 385.38 L480.39 385.07 L483.41 384.71 L486.42 384.28 L489.44 383.77 L492.45 383.18 L495.47 382.50 L498.48 381.71 L501.50 380.81 L504.51 379.81 L507.53 378.69 L510.54 377.48 L513.56 376.16 L516.58 374.75 L519.59 373.26 L522.61 371.67 L525.62 370.00 L528.64 368.25 L531.65 366.42 L534.67 364.52 L537.68 362.56 L540.70 360.54 L543.71 358.46 L546.73 356.36 L549.74 354.23 L552.76 352.08 L555.77 349.93 L558.79 347.79 L561.80 345.67 L564.82 343.58 L567.83 341.52 L570.85 339.52 L573.87 337.58 L576.88 335.70 L579.90 333.85 L582.91 332.04 L585.93 330.26 L588.94 328.49 L591.96 326.72 L594.97 324.95 L597.99 323.17 L601.00 321.37 L604.02 319.53 L607.03 317.65 L610.05 315.72 L613.06 313.76 L616.08 311.78 L619.09 309.80 L622.11 307.83 L625.12 305.89 L628.14 303.99 L631.16 302.16 L634.17 300.41 L637.19 298.75 L640.20 297.20 L643.22 295.77 L646.23 294.49 L649.25 293.34 L652.26 292.30 L655.28 291.38 L658.29 290.55 L661.31 289.80 L664.32 289.12 L667.34 288.51 L670.35 287.94 L673.37 287.41 L676.38 286.90 L679.40 286.40" fill="none" stroke="#4aa294" stroke-width="1.3" stroke-linejoin="round"/>
<circle cx="462.30" cy="386.40" r="3.2" fill="#3e9a8c"/>
<circle cx="498.48" cy="381.71" r="3.2" fill="#3e9a8c"/>
<circle cx="534.67" cy="364.52" r="3.2" fill="#3e9a8c"/>
<circle cx="570.85" cy="339.52" r="3.2" fill="#3e9a8c"/>
<circle cx="607.03" cy="317.65" r="3.2" fill="#3e9a8c"/>
<circle cx="643.22" cy="295.77" r="3.2" fill="#3e9a8c"/>
<circle cx="679.40" cy="286.40" r="3.2" fill="#3e9a8c"/>
<path d="M462.30 386.40 L465.32 385.77 L468.33 385.11 L471.35 384.40 L474.36 383.63 L477.38 382.76 L480.39 381.77 L483.41 380.64 L486.42 379.34 L489.44 377.86 L492.45 376.16 L495.47 374.22 L498.48 372.02 L501.50 369.56 L504.51 366.85 L507.53 363.94 L510.54 360.89 L513.56 357.73 L516.58 354.51 L519.59 351.27 L522.61 348.06 L525.62 344.92 L528.64 341.91 L531.65 339.05 L534.67 336.40 L537.68 333.99 L540.70 331.78 L543.71 329.74 L546.73 327.82 L549.74 325.97 L552.76 324.15 L555.77 322.31 L558.79 320.42 L561.80 318.43 L564.82 316.29 L567.83 313.96 L570.85 311.40 L573.87 308.57 L576.88 305.50 L579.90 302.24 L582.91 298.82 L585.93 295.29 L588.94 291.68 L591.96 288.04 L594.97 284.40 L597.99 280.82 L601.00 277.33 L604.02 273.97 L607.03 270.77 L610.05 267.79 L613.06 265.01 L616.08 262.41 L619.09 260.00 L622.11 257.75 L625.12 255.66 L628.14 253.72 L631.16 251.91 L634.17 250.22 L637.19 248.64 L640.20 247.16 L643.22 245.77 L646.23 244.46 L649.25 243.22 L652.26 242.04 L655.28 240.92 L658.29 239.86 L661.31 238.83 L664.32 237.85 L667.34 236.89 L670.35 235.97 L673.37 235.06 L676.38 234.16 L679.40 233.27" fill="none" stroke="#4a4396" stroke-width="1.3" stroke-linejoin="round"/>
<circle cx="462.30" cy="386.40" r="3.2" fill="#3f378a"/>
<circle cx="498.48" cy="372.02" r="3.2" fill="#3f378a"/>
<circle cx="534.67" cy="336.40" r="3.2" fill="#3f378a"/>
<circle cx="570.85" cy="311.40" r="3.2" fill="#3f378a"/>
<circle cx="607.03" cy="270.77" r="3.2" fill="#3f378a"/>
<circle cx="643.22" cy="245.77" r="3.2" fill="#3f378a"/>
<circle cx="679.40" cy="233.27" r="3.2" fill="#3f378a"/>
<line x1="471.90" y1="222.30" x2="495.00" y2="222.30" stroke="#86ee5e" stroke-width="1.3" />
<circle cx="483.6" cy="222.3" r="3.4" fill="#7ff05a"/>
<text x="497.00" y="225.80" font-size="10.3" font-weight="normal" text-anchor="start" fill="#000" >SMA</text>
<line x1="471.90" y1="234.40" x2="495.00" y2="234.40" stroke="#4aa294" stroke-width="1.3" />
<circle cx="483.6" cy="234.4" r="3.4" fill="#3e9a8c"/>
<text x="497.00" y="237.90" font-size="10.3" font-weight="normal" text-anchor="start" fill="#000" >SMA-opt1</text>
<line x1="471.90" y1="246.30" x2="495.00" y2="246.30" stroke="#4a4396" stroke-width="1.3" />
<circle cx="483.6" cy="246.3" r="3.4" fill="#3f378a"/>
<text x="497.00" y="249.80" font-size="10.3" font-weight="normal" text-anchor="start" fill="#000" >SMA-opt2</text>
<line x1="462.30" y1="214.40" x2="683.70" y2="214.40" stroke="#1a1a1a" stroke-width="1.2" />
<line x1="683.70" y1="214.40" x2="683.70" y2="386.40" stroke="#8a8a8a" stroke-width="1.5" />
<line x1="462.30" y1="213.90" x2="462.30" y2="386.90" stroke="#111" stroke-width="1.3" />
<line x1="461.80" y1="386.40" x2="683.70" y2="386.40" stroke="#111" stroke-width="1.3" />
<text x="311.40" y="11.40" font-size="12.5" font-weight="bold" text-anchor="start" fill="#000" >c</text>
<defs>
<clipPath id="sc"><rect x="311.1" y="36.1" width="182" height="128"/></clipPath>
<filter id="bump" x="300" y="26" width="205" height="150" filterUnits="userSpaceOnUse">
  <feTurbulence type="fractalNoise" baseFrequency="0.022 0.025" numOctaves="2" seed="5" result="n"/>
  <feComponentTransfer in="n" result="n2"><feFuncA type="table" tableValues="1 0.85 0.6 0 0.6 0.85 1"/></feComponentTransfer>
  <feGaussianBlur in="n2" stdDeviation="1.8" result="nb"/>
  <feDiffuseLighting in="nb" surfaceScale="7" diffuseConstant="1.0" lighting-color="#d0d0d0" result="lit">
    <feDistantLight azimuth="235" elevation="55"/>
  </feDiffuseLighting>
  <feSpecularLighting in="nb" surfaceScale="7" specularConstant="0.6" specularExponent="15" lighting-color="#fff" result="spec">
    <feDistantLight azimuth="235" elevation="55"/>
  </feSpecularLighting>
  <feComposite in="spec" in2="lit" operator="arithmetic" k1="0" k2="1" k3="1" k4="0"/>
</filter>
<filter id="bl2" x="-50%" y="-50%" width="200%" height="200%"><feGaussianBlur stdDeviation="2"/></filter>
<filter id="bl1" x="-50%" y="-50%" width="200%" height="200%"><feGaussianBlur stdDeviation="0.8"/></filter>
</defs>
<g clip-path="url(#sc)">
<rect x="300" y="26" width="205" height="150" fill="#ccc" filter="url(#bump)"/>
<path d="M311 36 L314 36 Q317.5 44 316 50 Q314 54 311 55 Z" fill="#000"/>
<path d="M477.7 36 L494 36 L494 101 Q490 99 487 97 Q485 92 485 88 Q484 84 485 82 Q491 78 491.3 74 Q490 68 486 66 Q484 62 484 58 Q486 54 486 52 Q484 48 482 45 Q479 40 477.7 36 Z" fill="#000"/>
<path d="M489 164.5 Q489 158 494 155.5 L494 164.5 Z" fill="#000"/>
<path d="M319.5 164.5 Q322 161 325 161.5 Q327.5 162.5 328.5 164.5 Z" fill="#000"/>
<ellipse cx="418" cy="94" rx="19" ry="20" fill="#707070" opacity="0.45" filter="url(#bl2)"/>
<ellipse cx="425" cy="99" rx="7" ry="13" fill="#666" opacity="0.5" filter="url(#bl2)"/>
<path d="M400 84 Q406 80 412 84 Q417 90 416 100 Q416 108 412 113 Q405 114 401 108 Q398 98 400 84 Z" fill="#d6d6d6" stroke="#5a5a5a" stroke-width="1.4" filter="url(#bl1)"/>
<ellipse cx="405" cy="94" rx="3.5" ry="7" fill="#eeeeee" filter="url(#bl1)"/>
</g>
<g stroke-linecap="round" fill="none">
<path d="M402.6 91 L403.8 94.5" stroke="#e02828" stroke-width="2.1"/>
<path d="M404 95 L409.4 99.6" stroke="#5858e0" stroke-width="2.1"/>
<path d="M409.4 99.6 L412 102.5" stroke="#e02828" stroke-width="2.1"/>
<path d="M412 102.5 L414.7 103.6" stroke="#f08020" stroke-width="2.1"/>
<path d="M414.7 103.6 L418.2 98.2 M414.7 103.6 L413 109" stroke="#e02828" stroke-width="2.1"/>
<path d="M414.7 103.6 L418.6 106" stroke="#f08020" stroke-width="2.1"/>
</g>
<clipPath id="rb"><rect x="516" y="18" width="166" height="165"/></clipPath>
<defs>
<linearGradient id="sh1" x1="0" y1="0" x2="1" y2="1"><stop offset="0" stop-color="#ececec"/><stop offset="1" stop-color="#c8c8c8"/></linearGradient>
<linearGradient id="sh2" x1="0" y1="0" x2="0" y2="1"><stop offset="0" stop-color="#e2e2e2"/><stop offset="1" stop-color="#c0c0c0"/></linearGradient>
</defs>
<g clip-path="url(#rb)" stroke-linejoin="round" stroke-linecap="round">
<path d="M567 18 L567 34 Q560 31 548 31 Q538 34 537 44 Q537 52 545 55" fill="none" stroke="#8e8e8e" stroke-width="3.3"/>
<path d="M567 18 L567 34 Q560 31 548 31 Q538 34 537 44 Q537 52 545 55" fill="none" stroke="#f0f0f0" stroke-width="2.0"/>
<path d="M571 18 L571 34" fill="none" stroke="#8e8e8e" stroke-width="2.9000000000000004"/>
<path d="M571 18 L571 34" fill="none" stroke="#f0f0f0" stroke-width="1.6"/>
<path d="M650 50 Q657 60 652 70 Q646 76 634 76 Q626 82 630 96" fill="none" stroke="#8e8e8e" stroke-width="3.5999999999999996"/>
<path d="M650 50 Q657 60 652 70 Q646 76 634 76 Q626 82 630 96" fill="none" stroke="#f0f0f0" stroke-width="2.3"/>
<path d="M656 52 Q664 64 656 78 Q664 84 676 80 Q684 82 684 90" fill="none" stroke="#8e8e8e" stroke-width="3.5999999999999996"/>
<path d="M656 52 Q664 64 656 78 Q664 84 676 80 Q684 82 684 90" fill="none" stroke="#f0f0f0" stroke-width="2.3"/>
<path d="M630 96 Q640 104 652 100 Q668 98 680 100 Q684 108 672 116 Q662 122 650 124" fill="none" stroke="#8e8e8e" stroke-width="3.5999999999999996"/>
<path d="M630 96 Q640 104 652 100 Q668 98 680 100 Q684 108 672 116 Q662 122 650 124" fill="none" stroke="#f0f0f0" stroke-width="2.3"/>
<path d="M600 78 Q620 88 630 96" fill="none" stroke="#8e8e8e" stroke-width="2.9000000000000004"/>
<path d="M600 78 Q620 88 630 96" fill="none" stroke="#f0f0f0" stroke-width="1.6"/>
<path d="M652 124 Q640 132 628 138 Q618 146 612 150" fill="none" stroke="#8e8e8e" stroke-width="3.3"/>
<path d="M652 124 Q640 132 628 138 Q618 146 612 150" fill="none" stroke="#f0f0f0" stroke-width="2.0"/>
<path d="M636 104 Q650 112 660 120" fill="none" stroke="#8e8e8e" stroke-width="3.1"/>
<path d="M636 104 Q650 112 660 120" fill="none" stroke="#f0f0f0" stroke-width="1.8"/>
<path d="M516 108 Q530 104 540 100" fill="none" stroke="#8e8e8e" stroke-width="2.9000000000000004"/>
<path d="M516 108 Q530 104 540 100" fill="none" stroke="#f0f0f0" stroke-width="1.6"/>
<path d="M520 118 L560 108 L572 112 L574 126 L540 136 L522 140 Z" fill="url(#sh1)" stroke="#8a8a8a" stroke-width="0.8"/>
<path d="M519 146 Q540 138 566 136 L575 150 L560 168 L548 176 L530 170 L519 168 Z" fill="url(#sh2)" stroke="#8a8a8a" stroke-width="0.8"/>
<path d="M546 150 L570 144 L574 160 L556 170 Z" fill="#a8a8a8"/>
<path d="M576 170 Q600 158 625 162 L628 172 Q604 168 580 180 Z" fill="#d8d8d8" stroke="#8a8a8a" stroke-width="0.7"/>
<path d="M600 178 Q615 168 640 170 L642 184 L600 184 Z" fill="#e2e2e2" stroke="#8a8a8a" stroke-width="0.7"/>
<path d="M622 184 Q616 168 628 160 Q642 154 652 166 Q656 176 650 184" fill="none" stroke="#8e8e8e" stroke-width="3.3"/>
<path d="M622 184 Q616 168 628 160 Q642 154 652 166 Q656 176 650 184" fill="none" stroke="#f0f0f0" stroke-width="2.0"/>
<polygon points="617.4,40.5 618.2,37.2 635.7,41.4 634.9,44.8" fill="#fcfcfc" stroke="#fcfcfc" stroke-width="0.6"/><path d="M617.4 40.5L618.2 37.2M634.9 44.8L635.7 41.4" stroke="#7a7a7a" stroke-width="0.7" fill="none"/><polygon points="581.4,42.6 582.2,39.2 599.7,43.5 598.9,46.8" fill="#fcfcfc" stroke="#fcfcfc" stroke-width="0.6"/><path d="M581.4 42.6L582.2 39.2M598.9 46.8L599.7 43.5" stroke="#7a7a7a" stroke-width="0.7" fill="none"/><polygon points="545.4,44.7 546.2,41.3 563.7,45.6 562.9,48.9" fill="#fdfdfd" stroke="#fdfdfd" stroke-width="0.6"/><path d="M545.4 44.7L546.2 41.3M562.9 48.9L563.7 45.6" stroke="#7a7a7a" stroke-width="0.7" fill="none"/><polygon points="546.2,41.3 547.1,38.0 564.6,42.2 563.7,45.6" fill="#eaeaea" stroke="#eaeaea" stroke-width="0.6"/><path d="M546.2 41.3L547.1 38.0M563.7 45.6L564.6 42.2" stroke="#7a7a7a" stroke-width="0.7" fill="none"/><polygon points="582.2,39.2 583.1,35.9 600.5,40.1 599.7,43.5" fill="#e9e9e9" stroke="#e9e9e9" stroke-width="0.6"/><path d="M582.2 39.2L583.1 35.9M599.7 43.5L600.5 40.1" stroke="#7a7a7a" stroke-width="0.7" fill="none"/><polygon points="618.2,37.2 619.1,33.9 636.5,38.0 635.7,41.4" fill="#e8e8e8" stroke="#e8e8e8" stroke-width="0.6"/><path d="M618.2 37.2L619.1 33.9M635.7 41.4L636.5 38.0" stroke="#7a7a7a" stroke-width="0.7" fill="none"/><polygon points="652.6,41.9 653.4,38.5 670.9,42.7 670.0,45.9" fill="#ffffff" stroke="#ffffff" stroke-width="0.6"/><path d="M652.6 41.9L653.4 38.5M670.0 45.9L670.9 42.7" stroke="#7a7a7a" stroke-width="0.7" fill="none"/><polygon points="616.6,43.9 617.4,40.5 634.9,44.8 634.0,47.9" fill="#ffffff" stroke="#ffffff" stroke-width="0.6"/><path d="M616.6 43.9L617.4 40.5M634.0 47.9L634.9 44.8" stroke="#7a7a7a" stroke-width="0.7" fill="none"/><polygon points="580.6,46.0 581.4,42.6 598.9,46.8 598.1,50.0" fill="#ffffff" stroke="#ffffff" stroke-width="0.6"/><path d="M580.6 46.0L581.4 42.6M598.1 50.0L598.9 46.8" stroke="#7a7a7a" stroke-width="0.7" fill="none"/><polygon points="544.6,48.0 545.4,44.7 562.9,48.9 562.1,52.0" fill="#ffffff" stroke="#ffffff" stroke-width="0.6"/><path d="M544.6 48.0L545.4 44.7M562.1 52.0L562.9 48.9" stroke="#7a7a7a" stroke-width="0.7" fill="none"/><polygon points="547.1,38.0 547.9,34.9 565.4,38.8 564.6,42.2" fill="#d2d2d2" stroke="#d2d2d2" stroke-width="0.6"/><path d="M547.1 38.0L547.9 34.9M564.6 42.2L565.4 38.8" stroke="#7a7a7a" stroke-width="0.7" fill="none"/><polygon points="583.1,35.9 583.9,32.8 601.4,36.8 600.5,40.1" fill="#d1d1d1" stroke="#d1d1d1" stroke-width="0.6"/><path d="M583.1 35.9L583.9 32.8M600.5 40.1L601.4 36.8" stroke="#7a7a7a" stroke-width="0.7" fill="none"/><polygon points="619.1,33.9 619.9,30.8 637.4,34.7 636.5,38.0" fill="#cfcfcf" stroke="#cfcfcf" stroke-width="0.6"/><path d="M619.1 33.9L619.9 30.8M636.5 38.0L637.4 34.7" stroke="#7a7a7a" stroke-width="0.7" fill="none"/><polygon points="651.7,45.1 652.6,41.9 670.0,45.9 669.2,48.8" fill="#ffffff" stroke="#ffffff" stroke-width="0.6"/><path d="M651.7 45.1L652.6 41.9M669.2 48.8L670.0 45.9" stroke="#7a7a7a" stroke-width="0.7" fill="none"/><polygon points="615.8,47.2 616.6,43.9 634.0,47.9 633.2,50.9" fill="#ffffff" stroke="#ffffff" stroke-width="0.6"/><path d="M615.8 47.2L616.6 43.9M633.2 50.9L634.0 47.9" stroke="#7a7a7a" stroke-width="0.7" fill="none"/><polygon points="579.8,49.2 580.6,46.0 598.1,50.0 597.2,52.9" fill="#ffffff" stroke="#ffffff" stroke-width="0.6"/><path d="M579.8 49.2L580.6 46.0M597.2 52.9L598.1 50.0" stroke="#7a7a7a" stroke-width="0.7" fill="none"/><polygon points="543.8,51.3 544.6,48.0 562.1,52.0 561.2,54.9" fill="#ffffff" stroke="#ffffff" stroke-width="0.6"/><path d="M543.8 51.3L544.6 48.0M561.2 54.9L562.1 52.0" stroke="#7a7a7a" stroke-width="0.7" fill="none"/><polygon points="547.9,34.9 548.8,32.0 566.2,35.6 565.4,38.8" fill="#b5b5b5" stroke="#b5b5b5" stroke-width="0.6"/><path d="M547.9 34.9L548.8 32.0M565.4 38.8L566.2 35.6" stroke="#7a7a7a" stroke-width="0.7" fill="none"/><polygon points="583.9,32.8 584.8,30.0 602.2,33.5 601.4,36.8" fill="#b4b4b4" stroke="#b4b4b4" stroke-width="0.6"/><path d="M583.9 32.8L584.8 30.0M601.4 36.8L602.2 33.5" stroke="#7a7a7a" stroke-width="0.7" fill="none"/><polygon points="619.9,30.8 620.8,28.0 638.2,31.5 637.4,34.7" fill="#b2b2b2" stroke="#b2b2b2" stroke-width="0.6"/><path d="M619.9 30.8L620.8 28.0M637.4 34.7L638.2 31.5" stroke="#7a7a7a" stroke-width="0.7" fill="none"/><polygon points="650.9,48.2 651.7,45.1 669.2,48.8 668.3,51.4" fill="#ffffff" stroke="#ffffff" stroke-width="0.6"/><path d="M650.9 48.2L651.7 45.1M668.3 51.4L669.2 48.8" stroke="#7a7a7a" stroke-width="0.7" fill="none"/><polygon points="614.9,50.3 615.8,47.2 633.2,50.9 632.3,53.4" fill="#ffffff" stroke="#ffffff" stroke-width="0.6"/><path d="M614.9 50.3L615.8 47.2M632.3 53.4L633.2 50.9" stroke="#7a7a7a" stroke-width="0.7" fill="none"/><polygon points="578.9,52.3 579.8,49.2 597.2,52.9 596.3,55.4" fill="#ffffff" stroke="#ffffff" stroke-width="0.6"/><path d="M578.9 52.3L579.8 49.2M596.3 55.4L597.2 52.9" stroke="#7a7a7a" stroke-width="0.7" fill="none"/><polygon points="542.9,54.3 543.8,51.3 561.2,54.9 560.3,57.4" fill="#ffffff" stroke="#ffffff" stroke-width="0.6"/><path d="M542.9 54.3L543.8 51.3M560.3 57.4L561.2 54.9" stroke="#7a7a7a" stroke-width="0.7" fill="none"/><polygon points="548.8,32.0 549.6,29.5 567.1,32.6 566.2,35.6" fill="#969696" stroke="#969696" stroke-width="0.6"/><path d="M548.8 32.0L549.6 29.5M566.2 35.6L567.1 32.6" stroke="#7a7a7a" stroke-width="0.7" fill="none"/><polygon points="584.8,30.0 585.6,27.5 603.1,30.5 602.2,33.5" fill="#949494" stroke="#949494" stroke-width="0.6"/><path d="M584.8 30.0L585.6 27.5M602.2 33.5L603.1 30.5" stroke="#7a7a7a" stroke-width="0.7" fill="none"/><polygon points="620.8,28.0 621.6,25.5 639.0,28.5 638.2,31.5" fill="#929292" stroke="#929292" stroke-width="0.6"/><path d="M620.8 28.0L621.6 25.5M638.2 31.5L639.0 28.5" stroke="#7a7a7a" stroke-width="0.7" fill="none"/><polygon points="650.0,51.0 650.9,48.2 668.3,51.4 667.4,53.6" fill="#ffffff" stroke="#ffffff" stroke-width="0.6"/><path d="M650.0 51.0L650.9 48.2M667.4 53.6L668.3 51.4" stroke="#7a7a7a" stroke-width="0.7" fill="none"/><polygon points="614.1,53.0 614.9,50.3 632.3,53.4 631.4,55.6" fill="#ffffff" stroke="#ffffff" stroke-width="0.6"/><path d="M614.1 53.0L614.9 50.3M631.4 55.6L632.3 53.4" stroke="#7a7a7a" stroke-width="0.7" fill="none"/><polygon points="578.1,55.1 578.9,52.3 596.3,55.4 595.4,57.6" fill="#ffffff" stroke="#ffffff" stroke-width="0.6"/><path d="M578.1 55.1L578.9 52.3M595.4 57.6L596.3 55.4" stroke="#7a7a7a" stroke-width="0.7" fill="none"/><polygon points="542.1,57.1 542.9,54.3 560.3,57.4 559.5,59.5" fill="#ffffff" stroke="#ffffff" stroke-width="0.6"/><path d="M542.1 57.1L542.9 54.3M559.5 59.5L560.3 57.4" stroke="#7a7a7a" stroke-width="0.7" fill="none"/><polygon points="549.6,29.5 550.5,27.5 567.9,29.9 567.1,32.6" fill="#747474" stroke="#747474" stroke-width="0.6"/><path d="M549.6 29.5L550.5 27.5M567.1 32.6L567.9 29.9" stroke="#7a7a7a" stroke-width="0.7" fill="none"/><polygon points="585.6,27.5 586.5,25.5 603.9,27.9 603.1,30.5" fill="#727272" stroke="#727272" stroke-width="0.6"/><path d="M585.6 27.5L586.5 25.5M603.1 30.5L603.9 27.9" stroke="#7a7a7a" stroke-width="0.7" fill="none"/><polygon points="621.6,25.5 622.5,23.5 639.9,25.8 639.0,28.5" fill="#707070" stroke="#707070" stroke-width="0.6"/><path d="M621.6 25.5L622.5 23.5M639.0 28.5L639.9 25.8" stroke="#7a7a7a" stroke-width="0.7" fill="none"/><polygon points="649.2,53.4 650.0,51.0 667.4,53.6 666.5,55.3" fill="#ffffff" stroke="#ffffff" stroke-width="0.6"/><path d="M649.2 53.4L650.0 51.0M666.5 55.3L667.4 53.6" stroke="#7a7a7a" stroke-width="0.7" fill="none"/><polygon points="613.2,55.4 614.1,53.0 631.4,55.6 630.5,57.2" fill="#ffffff" stroke="#ffffff" stroke-width="0.6"/><path d="M613.2 55.4L614.1 53.0M630.5 57.2L631.4 55.6" stroke="#7a7a7a" stroke-width="0.7" fill="none"/><polygon points="577.2,57.4 578.1,55.1 595.4,57.6 594.5,59.2" fill="#ffffff" stroke="#ffffff" stroke-width="0.6"/><path d="M577.2 57.4L578.1 55.1M594.5 59.2L595.4 57.6" stroke="#7a7a7a" stroke-width="0.7" fill="none"/><polygon points="541.2,59.4 542.1,57.1 559.5,59.5 558.5,61.2" fill="#ffffff" stroke="#ffffff" stroke-width="0.6"/><path d="M541.2 59.4L542.1 57.1M558.5 61.2L559.5 59.5" stroke="#7a7a7a" stroke-width="0.7" fill="none"/><polygon points="550.5,27.5 551.5,26.0 568.8,27.6 567.9,29.9" fill="#505050" stroke="#505050" stroke-width="0.6"/><path d="M550.5 27.5L551.5 26.0M567.9 29.9L568.8 27.6" stroke="#7a7a7a" stroke-width="0.7" fill="none"/><polygon points="586.5,25.5 587.5,24.0 604.8,25.6 603.9,27.9" fill="#4e4e4e" stroke="#4e4e4e" stroke-width="0.6"/><path d="M586.5 25.5L587.5 24.0M603.9 27.9L604.8 25.6" stroke="#7a7a7a" stroke-width="0.7" fill="none"/><polygon points="622.5,23.5 623.5,22.0 640.8,23.6 639.9,25.8" fill="#4c4c4c" stroke="#4c4c4c" stroke-width="0.6"/><path d="M622.5 23.5L623.5 22.0M639.9 25.8L640.8 23.6" stroke="#7a7a7a" stroke-width="0.7" fill="none"/><polygon points="648.3,55.4 649.2,53.4 666.5,55.3 665.6,56.4" fill="#f7f7f7" stroke="#f7f7f7" stroke-width="0.6"/><path d="M648.3 55.4L649.2 53.4M665.6 56.4L666.5 55.3" stroke="#7a7a7a" stroke-width="0.7" fill="none"/><polygon points="612.3,57.4 613.2,55.4 630.5,57.2 629.6,58.4" fill="#f6f6f6" stroke="#f6f6f6" stroke-width="0.6"/><path d="M612.3 57.4L613.2 55.4M629.6 58.4L630.5 57.2" stroke="#7a7a7a" stroke-width="0.7" fill="none"/><polygon points="576.3,59.3 577.2,57.4 594.5,59.2 593.6,60.3" fill="#f5f5f5" stroke="#f5f5f5" stroke-width="0.6"/><path d="M576.3 59.3L577.2 57.4M593.6 60.3L594.5 59.2" stroke="#7a7a7a" stroke-width="0.7" fill="none"/><polygon points="540.3,61.3 541.2,59.4 558.5,61.2 557.6,62.2" fill="#f4f4f4" stroke="#f4f4f4" stroke-width="0.6"/><path d="M540.3 61.3L541.2 59.4M557.6 62.2L558.5 61.2" stroke="#7a7a7a" stroke-width="0.7" fill="none"/><polygon points="551.5,26.0 552.4,24.9 569.7,25.8 568.8,27.6" fill="#626262" stroke="#626262" stroke-width="0.6"/><path d="M551.5 26.0L552.4 24.9M568.8 27.6L569.7 25.8" stroke="#7a7a7a" stroke-width="0.7" fill="none"/><polygon points="587.5,24.0 588.4,23.0 605.7,23.8 604.8,25.6" fill="#636363" stroke="#636363" stroke-width="0.6"/><path d="M587.5 24.0L588.4 23.0M604.8 25.6L605.7 23.8" stroke="#7a7a7a" stroke-width="0.7" fill="none"/><polygon points="623.5,22.0 624.4,21.1 641.7,21.8 640.8,23.6" fill="#656565" stroke="#656565" stroke-width="0.6"/><path d="M623.5 22.0L624.4 21.1M640.8 23.6L641.7 21.8" stroke="#7a7a7a" stroke-width="0.7" fill="none"/><polygon points="647.3,56.8 648.3,55.4 665.6,56.4 664.6,57.0" fill="#e1e1e1" stroke="#e1e1e1" stroke-width="0.6"/><path d="M647.3 56.8L648.3 55.4M664.6 57.0L665.6 56.4" stroke="#7a7a7a" stroke-width="0.7" fill="none"/><polygon points="611.3,58.8 612.3,57.4 629.6,58.4 628.6,58.9" fill="#e0e0e0" stroke="#e0e0e0" stroke-width="0.6"/><path d="M611.3 58.8L612.3 57.4M628.6 58.9L629.6 58.4" stroke="#7a7a7a" stroke-width="0.7" fill="none"/><polygon points="575.3,60.7 576.3,59.3 593.6,60.3 592.6,60.8" fill="#dfdfdf" stroke="#dfdfdf" stroke-width="0.6"/><path d="M575.3 60.7L576.3 59.3M592.6 60.8L593.6 60.3" stroke="#7a7a7a" stroke-width="0.7" fill="none"/><polygon points="552.4,24.9 553.4,24.5 570.6,24.4 569.7,25.8" fill="#858585" stroke="#858585" stroke-width="0.6"/><path d="M552.4 24.9L553.4 24.5M569.7 25.8L570.6 24.4" stroke="#7a7a7a" stroke-width="0.7" fill="none"/><polygon points="588.4,23.0 589.4,22.6 606.6,22.5 605.7,23.8" fill="#868686" stroke="#868686" stroke-width="0.6"/><path d="M588.4 23.0L589.4 22.6M605.7 23.8L606.6 22.5" stroke="#7a7a7a" stroke-width="0.7" fill="none"/><polygon points="624.4,21.1 625.4,20.7 642.6,20.6 641.7,21.8" fill="#888888" stroke="#888888" stroke-width="0.6"/><path d="M624.4 21.1L625.4 20.7M641.7 21.8L642.6 20.6" stroke="#7a7a7a" stroke-width="0.7" fill="none"/><polygon points="646.4,57.7 647.3,56.8 664.6,57.0 663.6,57.0" fill="#c7c7c7" stroke="#c7c7c7" stroke-width="0.6"/><path d="M646.4 57.7L647.3 56.8M663.6 57.0L664.6 57.0" stroke="#7a7a7a" stroke-width="0.7" fill="none"/><polygon points="610.4,59.7 611.3,58.8 628.6,58.9 627.6,58.9" fill="#c6c6c6" stroke="#c6c6c6" stroke-width="0.6"/><path d="M610.4 59.7L611.3 58.8M627.6 58.9L628.6 58.9" stroke="#7a7a7a" stroke-width="0.7" fill="none"/><polygon points="574.4,61.6 575.3,60.7 592.6,60.8 591.6,60.8" fill="#c5c5c5" stroke="#c5c5c5" stroke-width="0.6"/><path d="M574.4 61.6L575.3 60.7M591.6 60.8L592.6 60.8" stroke="#7a7a7a" stroke-width="0.7" fill="none"/><polygon points="553.4,24.5 554.4,24.7 571.6,23.7 570.6,24.4" fill="#a6a6a6" stroke="#a6a6a6" stroke-width="0.6"/><path d="M553.4 24.5L554.4 24.7M570.6 24.4L571.6 23.7" stroke="#7a7a7a" stroke-width="0.7" fill="none"/><polygon points="589.4,22.6 590.4,22.8 607.6,21.8 606.6,22.5" fill="#a7a7a7" stroke="#a7a7a7" stroke-width="0.6"/><path d="M589.4 22.6L590.4 22.8M606.6 22.5L607.6 21.8" stroke="#7a7a7a" stroke-width="0.7" fill="none"/><polygon points="625.4,20.7 626.4,20.9 643.6,19.9 642.6,20.6" fill="#a9a9a9" stroke="#a9a9a9" stroke-width="0.6"/><path d="M625.4 20.7L626.4 20.9M642.6 20.6L643.6 19.9" stroke="#7a7a7a" stroke-width="0.7" fill="none"/><polygon points="645.4,58.1 646.4,57.7 663.6,57.0 662.6,56.4" fill="#aaaaaa" stroke="#aaaaaa" stroke-width="0.6"/><path d="M645.4 58.1L646.4 57.7M662.6 56.4L663.6 57.0" stroke="#7a7a7a" stroke-width="0.7" fill="none"/><polygon points="609.4,60.0 610.4,59.7 627.6,58.9 626.6,58.3" fill="#a8a8a8" stroke="#a8a8a8" stroke-width="0.6"/><path d="M609.4 60.0L610.4 59.7M626.6 58.3L627.6 58.9" stroke="#7a7a7a" stroke-width="0.7" fill="none"/><polygon points="573.4,61.9 574.4,61.6 591.6,60.8 590.6,60.1" fill="#a7a7a7" stroke="#a7a7a7" stroke-width="0.6"/><path d="M573.4 61.9L574.4 61.6M590.6 60.1L591.6 60.8" stroke="#7a7a7a" stroke-width="0.7" fill="none"/><polygon points="554.4,24.7 555.4,25.4 572.6,23.5 571.6,23.7" fill="#c4c4c4" stroke="#c4c4c4" stroke-width="0.6"/><path d="M554.4 24.7L555.4 25.4M571.6 23.7L572.6 23.5" stroke="#7a7a7a" stroke-width="0.7" fill="none"/><polygon points="590.4,22.8 591.4,23.6 608.6,21.6 607.6,21.8" fill="#c5c5c5" stroke="#c5c5c5" stroke-width="0.6"/><path d="M590.4 22.8L591.4 23.6M607.6 21.8L608.6 21.6" stroke="#7a7a7a" stroke-width="0.7" fill="none"/><polygon points="626.4,20.9 627.4,21.7 644.6,19.8 643.6,19.9" fill="#c7c7c7" stroke="#c7c7c7" stroke-width="0.6"/><path d="M626.4 20.9L627.4 21.7M643.6 19.9L644.6 19.8" stroke="#7a7a7a" stroke-width="0.7" fill="none"/><polygon points="644.4,57.8 645.4,58.1 662.6,56.4 661.5,55.3" fill="#898989" stroke="#898989" stroke-width="0.6"/><path d="M644.4 57.8L645.4 58.1M661.5 55.3L662.6 56.4" stroke="#7a7a7a" stroke-width="0.7" fill="none"/><polygon points="608.4,59.7 609.4,60.0 626.6,58.3 625.5,57.1" fill="#878787" stroke="#878787" stroke-width="0.6"/><path d="M608.4 59.7L609.4 60.0M625.5 57.1L626.6 58.3" stroke="#7a7a7a" stroke-width="0.7" fill="none"/><polygon points="572.4,61.6 573.4,61.9 590.6,60.1 589.5,59.0" fill="#858585" stroke="#858585" stroke-width="0.6"/><path d="M572.4 61.6L573.4 61.9M589.5 59.0L590.6 60.1" stroke="#7a7a7a" stroke-width="0.7" fill="none"/><polygon points="555.4,25.4 556.5,26.7 573.6,23.9 572.6,23.5" fill="#dedede" stroke="#dedede" stroke-width="0.6"/><path d="M555.4 25.4L556.5 26.7M572.6 23.5L573.6 23.9" stroke="#7a7a7a" stroke-width="0.7" fill="none"/><polygon points="591.4,23.6 592.5,24.9 609.6,22.1 608.6,21.6" fill="#e0e0e0" stroke="#e0e0e0" stroke-width="0.6"/><path d="M591.4 23.6L592.5 24.9M608.6 21.6L609.6 22.1" stroke="#7a7a7a" stroke-width="0.7" fill="none"/><polygon points="627.4,21.7 628.5,23.1 645.6,20.2 644.6,19.8" fill="#e1e1e1" stroke="#e1e1e1" stroke-width="0.6"/><path d="M627.4 21.7L628.5 23.1M644.6 19.8L645.6 20.2" stroke="#7a7a7a" stroke-width="0.7" fill="none"/><polygon points="643.3,57.0 644.4,57.8 661.5,55.3 660.4,53.7" fill="#666666" stroke="#666666" stroke-width="0.6"/><path d="M643.3 57.0L644.4 57.8M660.4 53.7L661.5 55.3" stroke="#7a7a7a" stroke-width="0.7" fill="none"/><polygon points="607.3,58.8 608.4,59.7 625.5,57.1 624.4,55.4" fill="#646464" stroke="#646464" stroke-width="0.6"/><path d="M607.3 58.8L608.4 59.7M624.4 55.4L625.5 57.1" stroke="#7a7a7a" stroke-width="0.7" fill="none"/><polygon points="571.3,60.7 572.4,61.6 589.5,59.0 588.4,57.2" fill="#636363" stroke="#636363" stroke-width="0.6"/><path d="M571.3 60.7L572.4 61.6M588.4 57.2L589.5 59.0" stroke="#7a7a7a" stroke-width="0.7" fill="none"/><polygon points="556.5,26.7 557.6,28.5 574.7,24.9 573.6,23.9" fill="#f4f4f4" stroke="#f4f4f4" stroke-width="0.6"/><path d="M556.5 26.7L557.6 28.5M573.6 23.9L574.7 24.9" stroke="#7a7a7a" stroke-width="0.7" fill="none"/><polygon points="592.5,24.9 593.6,26.7 610.7,23.1 609.6,22.1" fill="#f5f5f5" stroke="#f5f5f5" stroke-width="0.6"/><path d="M592.5 24.9L593.6 26.7M609.6 22.1L610.7 23.1" stroke="#7a7a7a" stroke-width="0.7" fill="none"/><polygon points="628.5,23.1 629.6,24.9 646.7,21.3 645.6,20.2" fill="#f6f6f6" stroke="#f6f6f6" stroke-width="0.6"/><path d="M628.5 23.1L629.6 24.9M645.6 20.2L646.7 21.3" stroke="#7a7a7a" stroke-width="0.7" fill="none"/><polygon points="642.3,55.6 643.3,57.0 660.4,53.7 659.3,51.5" fill="#4d4d4d" stroke="#4d4d4d" stroke-width="0.6"/><path d="M642.3 55.6L643.3 57.0M659.3 51.5L660.4 53.7" stroke="#7a7a7a" stroke-width="0.7" fill="none"/><polygon points="606.3,57.4 607.3,58.8 624.4,55.4 623.3,53.3" fill="#4f4f4f" stroke="#4f4f4f" stroke-width="0.6"/><path d="M606.3 57.4L607.3 58.8M623.3 53.3L624.4 55.4" stroke="#7a7a7a" stroke-width="0.7" fill="none"/><polygon points="570.3,59.2 571.3,60.7 588.4,57.2 587.3,55.1" fill="#515151" stroke="#515151" stroke-width="0.6"/><path d="M570.3 59.2L571.3 60.7M587.3 55.1L588.4 57.2" stroke="#7a7a7a" stroke-width="0.7" fill="none"/><polygon points="557.6,28.5 558.7,30.7 575.8,26.4 574.7,24.9" fill="#ffffff" stroke="#ffffff" stroke-width="0.6"/><path d="M557.6 28.5L558.7 30.7M574.7 24.9L575.8 26.4" stroke="#7a7a7a" stroke-width="0.7" fill="none"/><polygon points="593.6,26.7 594.7,29.0 611.8,24.6 610.7,23.1" fill="#ffffff" stroke="#ffffff" stroke-width="0.6"/><path d="M593.6 26.7L594.7 29.0M610.7 23.1L611.8 24.6" stroke="#7a7a7a" stroke-width="0.7" fill="none"/><polygon points="629.6,24.9 630.7,27.2 647.8,22.8 646.7,21.3" fill="#ffffff" stroke="#ffffff" stroke-width="0.6"/><path d="M629.6 24.9L630.7 27.2M646.7 21.3L647.8 22.8" stroke="#7a7a7a" stroke-width="0.7" fill="none"/><polygon points="641.2,53.7 642.3,55.6 659.3,51.5 658.2,49.0" fill="#757575" stroke="#757575" stroke-width="0.6"/><path d="M641.2 53.7L642.3 55.6M658.2 49.0L659.3 51.5" stroke="#7a7a7a" stroke-width="0.7" fill="none"/><polygon points="605.2,55.5 606.3,57.4 623.3,53.3 622.2,50.7" fill="#777777" stroke="#777777" stroke-width="0.6"/><path d="M605.2 55.5L606.3 57.4M622.2 50.7L623.3 53.3" stroke="#7a7a7a" stroke-width="0.7" fill="none"/><polygon points="569.2,57.3 570.3,59.2 587.3,55.1 586.2,52.5" fill="#797979" stroke="#797979" stroke-width="0.6"/><path d="M569.2 57.3L570.3 59.2M586.2 52.5L587.3 55.1" stroke="#7a7a7a" stroke-width="0.7" fill="none"/><polygon points="558.7,30.7 559.9,33.4 576.9,28.4 575.8,26.4" fill="#ffffff" stroke="#ffffff" stroke-width="0.6"/><path d="M558.7 30.7L559.9 33.4M575.8 26.4L576.9 28.4" stroke="#7a7a7a" stroke-width="0.7" fill="none"/><polygon points="594.7,29.0 595.9,31.6 612.9,26.7 611.8,24.6" fill="#ffffff" stroke="#ffffff" stroke-width="0.6"/><path d="M594.7 29.0L595.9 31.6M611.8 24.6L612.9 26.7" stroke="#7a7a7a" stroke-width="0.7" fill="none"/><polygon points="630.7,27.2 631.9,29.9 648.9,24.9 647.8,22.8" fill="#ffffff" stroke="#ffffff" stroke-width="0.6"/><path d="M630.7 27.2L631.9 29.9M647.8 22.8L648.9 24.9" stroke="#7a7a7a" stroke-width="0.7" fill="none"/><polygon points="640.0,51.4 641.2,53.7 658.2,49.0 657.0,46.1" fill="#a3a3a3" stroke="#a3a3a3" stroke-width="0.6"/><path d="M640.0 51.4L641.2 53.7M657.0 46.1L658.2 49.0" stroke="#7a7a7a" stroke-width="0.7" fill="none"/><polygon points="604.0,53.2 605.2,55.5 622.2,50.7 621.0,47.9" fill="#a5a5a5" stroke="#a5a5a5" stroke-width="0.6"/><path d="M604.0 53.2L605.2 55.5M621.0 47.9L622.2 50.7" stroke="#7a7a7a" stroke-width="0.7" fill="none"/><polygon points="568.0,55.0 569.2,57.3 586.2,52.5 585.0,49.6" fill="#a8a8a8" stroke="#a8a8a8" stroke-width="0.6"/><path d="M568.0 55.0L569.2 57.3M585.0 49.6L586.2 52.5" stroke="#7a7a7a" stroke-width="0.7" fill="none"/><polygon points="559.9,33.4 561.0,36.3 578.0,30.9 576.9,28.4" fill="#ffffff" stroke="#ffffff" stroke-width="0.6"/><path d="M559.9 33.4L561.0 36.3M576.9 28.4L578.0 30.9" stroke="#7a7a7a" stroke-width="0.7" fill="none"/><polygon points="595.9,31.6 597.0,34.6 614.0,29.1 612.9,26.7" fill="#ffffff" stroke="#ffffff" stroke-width="0.6"/><path d="M595.9 31.6L597.0 34.6M612.9 26.7L614.0 29.1" stroke="#7a7a7a" stroke-width="0.7" fill="none"/><polygon points="631.9,29.9 633.0,32.8 650.0,27.4 648.9,24.9" fill="#ffffff" stroke="#ffffff" stroke-width="0.6"/><path d="M631.9 29.9L633.0 32.8M648.9 24.9L650.0 27.4" stroke="#7a7a7a" stroke-width="0.7" fill="none"/><polygon points="638.9,48.7 640.0,51.4 657.0,46.1 655.9,43.0" fill="#d5d5d5" stroke="#d5d5d5" stroke-width="0.6"/><path d="M638.9 48.7L640.0 51.4M655.9 43.0L657.0 46.1" stroke="#7a7a7a" stroke-width="0.7" fill="none"/><polygon points="602.9,50.5 604.0,53.2 621.0,47.9 619.8,44.7" fill="#d7d7d7" stroke="#d7d7d7" stroke-width="0.6"/><path d="M602.9 50.5L604.0 53.2M619.8 44.7L621.0 47.9" stroke="#7a7a7a" stroke-width="0.7" fill="none"/><polygon points="566.9,52.2 568.0,55.0 585.0,49.6 583.8,46.5" fill="#dadada" stroke="#dadada" stroke-width="0.6"/><path d="M566.9 52.2L568.0 55.0M583.8 46.5L585.0 49.6" stroke="#7a7a7a" stroke-width="0.7" fill="none"/><polygon points="561.0,36.3 562.2,39.5 579.1,33.7 578.0,30.9" fill="#ffffff" stroke="#ffffff" stroke-width="0.6"/><path d="M561.0 36.3L562.2 39.5M578.0 30.9L579.1 33.7" stroke="#7a7a7a" stroke-width="0.7" fill="none"/><polygon points="597.0,34.6 598.2,37.7 615.2,31.9 614.0,29.1" fill="#ffffff" stroke="#ffffff" stroke-width="0.6"/><path d="M597.0 34.6L598.2 37.7M614.0 29.1L615.2 31.9" stroke="#7a7a7a" stroke-width="0.7" fill="none"/><polygon points="633.0,32.8 634.2,36.0 651.2,30.2 650.0,27.4" fill="#ffffff" stroke="#ffffff" stroke-width="0.6"/><path d="M633.0 32.8L634.2 36.0M650.0 27.4L651.2 30.2" stroke="#7a7a7a" stroke-width="0.7" fill="none"/><polygon points="637.7,45.7 638.9,48.7 655.9,43.0 654.7,39.8" fill="#ffffff" stroke="#ffffff" stroke-width="0.6"/><path d="M637.7 45.7L638.9 48.7M654.7 39.8L655.9 43.0" stroke="#7a7a7a" stroke-width="0.7" fill="none"/><polygon points="601.7,47.5 602.9,50.5 619.8,44.7 618.7,41.5" fill="#ffffff" stroke="#ffffff" stroke-width="0.6"/><path d="M601.7 47.5L602.9 50.5M618.7 41.5L619.8 44.7" stroke="#7a7a7a" stroke-width="0.7" fill="none"/><polygon points="565.7,49.2 566.9,52.2 583.8,46.5 582.7,43.2" fill="#ffffff" stroke="#ffffff" stroke-width="0.6"/><path d="M565.7 49.2L566.9 52.2M582.7 43.2L583.8 46.5" stroke="#7a7a7a" stroke-width="0.7" fill="none"/><polygon points="562.2,39.5 563.4,42.7 580.3,36.7 579.1,33.7" fill="#ffffff" stroke="#ffffff" stroke-width="0.6"/><path d="M562.2 39.5L563.4 42.7M579.1 33.7L580.3 36.7" stroke="#7a7a7a" stroke-width="0.7" fill="none"/><polygon points="598.2,37.7 599.4,41.0 616.3,35.0 615.2,31.9" fill="#ffffff" stroke="#ffffff" stroke-width="0.6"/><path d="M598.2 37.7L599.4 41.0M615.2 31.9L616.3 35.0" stroke="#7a7a7a" stroke-width="0.7" fill="none"/><polygon points="634.2,36.0 635.4,39.3 652.3,33.2 651.2,30.2" fill="#ffffff" stroke="#ffffff" stroke-width="0.6"/><path d="M634.2 36.0L635.4 39.3M651.2 30.2L652.3 33.2" stroke="#7a7a7a" stroke-width="0.7" fill="none"/><polygon points="636.6,42.6 637.7,45.7 654.7,39.8 653.5,36.5" fill="#ffffff" stroke="#ffffff" stroke-width="0.6"/><path d="M636.6 42.6L637.7 45.7M653.5 36.5L654.7 39.8" stroke="#7a7a7a" stroke-width="0.7" fill="none"/><polygon points="600.6,44.3 601.7,47.5 618.7,41.5 617.5,38.2" fill="#ffffff" stroke="#ffffff" stroke-width="0.6"/><path d="M600.6 44.3L601.7 47.5M617.5 38.2L618.7 41.5" stroke="#7a7a7a" stroke-width="0.7" fill="none"/><polygon points="564.5,46.0 565.7,49.2 582.7,43.2 581.5,39.9" fill="#ffffff" stroke="#ffffff" stroke-width="0.6"/><path d="M564.5 46.0L565.7 49.2M581.5 39.9L582.7 43.2" stroke="#7a7a7a" stroke-width="0.7" fill="none"/><polygon points="563.4,42.7 564.5,46.0 581.5,39.9 580.3,36.7" fill="#ffffff" stroke="#ffffff" stroke-width="0.6"/><path d="M563.4 42.7L564.5 46.0M580.3 36.7L581.5 39.9" stroke="#7a7a7a" stroke-width="0.7" fill="none"/><polygon points="599.4,41.0 600.6,44.3 617.5,38.2 616.3,35.0" fill="#ffffff" stroke="#ffffff" stroke-width="0.6"/><path d="M599.4 41.0L600.6 44.3M616.3 35.0L617.5 38.2" stroke="#7a7a7a" stroke-width="0.7" fill="none"/><polygon points="635.4,39.3 636.6,42.6 653.5,36.5 652.3,33.2" fill="#ffffff" stroke="#ffffff" stroke-width="0.6"/><path d="M635.4 39.3L636.6 42.6M652.3 33.2L653.5 36.5" stroke="#7a7a7a" stroke-width="0.7" fill="none"/>
<polygon points="528.6,81.2 530.9,80.8 532.9,90.6 530.6,91.0" fill="#f1f1f1" stroke="#f1f1f1" stroke-width="0.6"/><path d="M528.6 81.2L530.9 80.8M530.6 91.0L532.9 90.6" stroke="#8a8a8a" stroke-width="0.7" fill="none"/><polygon points="521.8,66.5 524.1,66.1 526.1,75.9 523.8,76.3" fill="#f0f0f0" stroke="#f0f0f0" stroke-width="0.6"/><path d="M521.8 66.5L524.1 66.1M523.8 76.3L526.1 75.9" stroke="#8a8a8a" stroke-width="0.7" fill="none"/><polygon points="535.4,95.9 537.7,95.4 539.7,105.2 537.4,105.7" fill="#f3f3f3" stroke="#f3f3f3" stroke-width="0.6"/><path d="M535.4 95.9L537.7 95.4M537.4 105.7L539.7 105.2" stroke="#8a8a8a" stroke-width="0.7" fill="none"/><polygon points="533.2,96.3 535.4,95.9 537.4,105.7 535.1,106.1" fill="#ededed" stroke="#ededed" stroke-width="0.6"/><path d="M533.2 96.3L535.4 95.9M535.1 106.1L537.4 105.7" stroke="#8a8a8a" stroke-width="0.7" fill="none"/><polygon points="524.1,66.1 526.4,65.7 528.4,75.5 526.1,75.9" fill="#f4f4f4" stroke="#f4f4f4" stroke-width="0.6"/><path d="M524.1 66.1L526.4 65.7M526.1 75.9L528.4 75.5" stroke="#8a8a8a" stroke-width="0.7" fill="none"/><polygon points="526.4,81.7 528.6,81.2 530.6,91.0 528.4,91.4" fill="#ebebeb" stroke="#ebebeb" stroke-width="0.6"/><path d="M526.4 81.7L528.6 81.2M528.4 91.4L530.6 91.0" stroke="#8a8a8a" stroke-width="0.7" fill="none"/><polygon points="530.9,80.8 533.1,80.3 535.1,90.1 532.9,90.6" fill="#f4f4f4" stroke="#f4f4f4" stroke-width="0.6"/><path d="M530.9 80.8L533.1 80.3M532.9 90.6L535.1 90.1" stroke="#8a8a8a" stroke-width="0.7" fill="none"/><polygon points="519.6,67.0 521.8,66.5 523.8,76.3 521.6,76.8" fill="#e8e8e8" stroke="#e8e8e8" stroke-width="0.6"/><path d="M519.6 67.0L521.8 66.5M521.6 76.8L523.8 76.3" stroke="#8a8a8a" stroke-width="0.7" fill="none"/><polygon points="537.7,95.4 539.9,95.0 541.9,104.8 539.7,105.2" fill="#f4f4f4" stroke="#f4f4f4" stroke-width="0.6"/><path d="M537.7 95.4L539.9 95.0M539.7 105.2L541.9 104.8" stroke="#8a8a8a" stroke-width="0.7" fill="none"/><polygon points="530.9,96.8 533.2,96.3 535.1,106.1 533.0,106.5" fill="#e5e5e5" stroke="#e5e5e5" stroke-width="0.6"/><path d="M530.9 96.8L533.2 96.3M533.0 106.5L535.1 106.1" stroke="#8a8a8a" stroke-width="0.7" fill="none"/><polygon points="526.4,65.7 528.5,65.3 530.6,75.0 528.4,75.5" fill="#f4f4f4" stroke="#f4f4f4" stroke-width="0.6"/><path d="M526.4 65.7L528.5 65.3M528.4 75.5L530.6 75.0" stroke="#8a8a8a" stroke-width="0.7" fill="none"/><polygon points="524.1,82.1 526.4,81.7 528.4,91.4 526.2,91.8" fill="#e1e1e1" stroke="#e1e1e1" stroke-width="0.6"/><path d="M524.1 82.1L526.4 81.7M526.2 91.8L528.4 91.4" stroke="#8a8a8a" stroke-width="0.7" fill="none"/><polygon points="533.1,80.3 535.2,80.0 537.4,89.7 535.1,90.1" fill="#f4f4f4" stroke="#f4f4f4" stroke-width="0.6"/><path d="M533.1 80.3L535.2 80.0M535.1 90.1L537.4 89.7" stroke="#8a8a8a" stroke-width="0.7" fill="none"/><polygon points="517.4,67.4 519.6,67.0 521.6,76.8 519.5,77.1" fill="#dddddd" stroke="#dddddd" stroke-width="0.6"/><path d="M517.4 67.4L519.6 67.0M519.5 77.1L521.6 76.8" stroke="#8a8a8a" stroke-width="0.7" fill="none"/><polygon points="539.9,95.0 541.9,94.7 544.1,104.4 541.9,104.8" fill="#f3f3f3" stroke="#f3f3f3" stroke-width="0.6"/><path d="M539.9 95.0L541.9 94.7M541.9 104.8L544.1 104.4" stroke="#8a8a8a" stroke-width="0.7" fill="none"/><polygon points="528.8,97.1 530.9,96.8 533.0,106.5 531.0,106.8" fill="#d9d9d9" stroke="#d9d9d9" stroke-width="0.6"/><path d="M528.8 97.1L530.9 96.8M531.0 106.8L533.0 106.5" stroke="#8a8a8a" stroke-width="0.7" fill="none"/><polygon points="528.5,65.3 530.5,64.9 532.7,74.6 530.6,75.0" fill="#f1f1f1" stroke="#f1f1f1" stroke-width="0.6"/><path d="M528.5 65.3L530.5 64.9M530.6 75.0L532.7 74.6" stroke="#8a8a8a" stroke-width="0.7" fill="none"/><polygon points="522.1,82.4 524.1,82.1 526.2,91.8 524.3,92.1" fill="#d5d5d5" stroke="#d5d5d5" stroke-width="0.6"/><path d="M522.1 82.4L524.1 82.1M524.3 92.1L526.2 91.8" stroke="#8a8a8a" stroke-width="0.7" fill="none"/><polygon points="535.2,80.0 537.1,79.7 539.4,89.3 537.4,89.7" fill="#efefef" stroke="#efefef" stroke-width="0.6"/><path d="M535.2 80.0L537.1 79.7M537.4 89.7L539.4 89.3" stroke="#8a8a8a" stroke-width="0.7" fill="none"/><polygon points="515.4,67.7 517.4,67.4 519.5,77.1 517.7,77.4" fill="#d0d0d0" stroke="#d0d0d0" stroke-width="0.6"/><path d="M515.4 67.7L517.4 67.4M517.7 77.4L519.5 77.1" stroke="#8a8a8a" stroke-width="0.7" fill="none"/><polygon points="541.9,94.7 543.8,94.4 546.1,104.0 544.1,104.4" fill="#ededed" stroke="#ededed" stroke-width="0.6"/><path d="M541.9 94.7L543.8 94.4M544.1 104.4L546.1 104.0" stroke="#8a8a8a" stroke-width="0.7" fill="none"/><polygon points="526.8,97.5 528.8,97.1 531.0,106.8 529.2,107.1" fill="#cacaca" stroke="#cacaca" stroke-width="0.6"/><path d="M526.8 97.5L528.8 97.1M529.2 107.1L531.0 106.8" stroke="#8a8a8a" stroke-width="0.7" fill="none"/><polygon points="530.5,64.9 532.2,64.7 534.6,74.3 532.7,74.6" fill="#eaeaea" stroke="#eaeaea" stroke-width="0.6"/><path d="M530.5 64.9L532.2 64.7M532.7 74.6L534.6 74.3" stroke="#8a8a8a" stroke-width="0.7" fill="none"/><polygon points="520.2,82.7 522.1,82.4 524.3,92.1 522.6,92.3" fill="#c5c5c5" stroke="#c5c5c5" stroke-width="0.6"/><path d="M520.2 82.7L522.1 82.4M522.6 92.3L524.3 92.1" stroke="#8a8a8a" stroke-width="0.7" fill="none"/><polygon points="537.1,79.7 538.8,79.5 541.3,89.1 539.4,89.3" fill="#e7e7e7" stroke="#e7e7e7" stroke-width="0.6"/><path d="M537.1 79.7L538.8 79.5M539.4 89.3L541.3 89.1" stroke="#8a8a8a" stroke-width="0.7" fill="none"/><polygon points="513.5,68.0 515.4,67.7 517.7,77.4 516.1,77.6" fill="#c0c0c0" stroke="#c0c0c0" stroke-width="0.6"/><path d="M513.5 68.0L515.4 67.7M516.1 77.6L517.7 77.4" stroke="#8a8a8a" stroke-width="0.7" fill="none"/><polygon points="543.8,94.4 545.3,94.2 547.9,103.8 546.1,104.0" fill="#e4e4e4" stroke="#e4e4e4" stroke-width="0.6"/><path d="M543.8 94.4L545.3 94.2M546.1 104.0L547.9 103.8" stroke="#8a8a8a" stroke-width="0.7" fill="none"/><polygon points="525.1,97.7 526.8,97.5 529.2,107.1 527.7,107.2" fill="#b9b9b9" stroke="#b9b9b9" stroke-width="0.6"/><path d="M525.1 97.7L526.8 97.5M527.7 107.2L529.2 107.1" stroke="#8a8a8a" stroke-width="0.7" fill="none"/><polygon points="532.2,64.7 533.7,64.6 536.4,74.1 534.6,74.3" fill="#e0e0e0" stroke="#e0e0e0" stroke-width="0.6"/><path d="M532.2 64.7L533.7 64.6M534.6 74.3L536.4 74.1" stroke="#8a8a8a" stroke-width="0.7" fill="none"/><polygon points="518.5,82.9 520.2,82.7 522.6,92.3 521.2,92.4" fill="#b3b3b3" stroke="#b3b3b3" stroke-width="0.6"/><path d="M518.5 82.9L520.2 82.7M521.2 92.4L522.6 92.3" stroke="#8a8a8a" stroke-width="0.7" fill="none"/><polygon points="538.8,79.5 540.2,79.4 542.9,88.9 541.3,89.1" fill="#dcdcdc" stroke="#dcdcdc" stroke-width="0.6"/><path d="M538.8 79.5L540.2 79.4M541.3 89.1L542.9 88.9" stroke="#8a8a8a" stroke-width="0.7" fill="none"/><polygon points="512.0,68.2 513.5,68.0 516.1,77.6 514.7,77.6" fill="#adadad" stroke="#adadad" stroke-width="0.6"/><path d="M512.0 68.2L513.5 68.0M514.7 77.6L516.1 77.6" stroke="#8a8a8a" stroke-width="0.7" fill="none"/><polygon points="545.3,94.2 546.6,94.2 549.4,103.7 547.9,103.8" fill="#d8d8d8" stroke="#d8d8d8" stroke-width="0.6"/><path d="M545.3 94.2L546.6 94.2M547.9 103.8L549.4 103.7" stroke="#8a8a8a" stroke-width="0.7" fill="none"/><polygon points="523.6,97.8 525.1,97.7 527.7,107.2 526.5,107.2" fill="#a7a7a7" stroke="#a7a7a7" stroke-width="0.6"/><path d="M523.6 97.8L525.1 97.7M526.5 107.2L527.7 107.2" stroke="#8a8a8a" stroke-width="0.7" fill="none"/><polygon points="533.7,64.6 534.9,64.6 537.8,74.0 536.4,74.1" fill="#d3d3d3" stroke="#d3d3d3" stroke-width="0.6"/><path d="M533.7 64.6L534.9 64.6M536.4 74.1L537.8 74.0" stroke="#8a8a8a" stroke-width="0.7" fill="none"/><polygon points="517.1,83.0 518.5,82.9 521.2,92.4 520.1,92.4" fill="#a0a0a0" stroke="#a0a0a0" stroke-width="0.6"/><path d="M517.1 83.0L518.5 82.9M520.1 92.4L521.2 92.4" stroke="#8a8a8a" stroke-width="0.7" fill="none"/><polygon points="540.2,79.4 541.2,79.4 544.2,88.8 542.9,88.9" fill="#cecece" stroke="#cecece" stroke-width="0.6"/><path d="M540.2 79.4L541.2 79.4M542.9 88.9L544.2 88.8" stroke="#8a8a8a" stroke-width="0.7" fill="none"/><polygon points="510.7,68.2 512.0,68.2 514.7,77.6 513.8,77.5" fill="#9a9a9a" stroke="#9a9a9a" stroke-width="0.6"/><path d="M510.7 68.2L512.0 68.2M513.8 77.5L514.7 77.6" stroke="#8a8a8a" stroke-width="0.7" fill="none"/><polygon points="546.6,94.2 547.6,94.3 550.7,103.6 549.4,103.7" fill="#c9c9c9" stroke="#c9c9c9" stroke-width="0.6"/><path d="M546.6 94.2L547.6 94.3M549.4 103.7L550.7 103.6" stroke="#8a8a8a" stroke-width="0.7" fill="none"/><polygon points="522.4,97.8 523.6,97.8 526.5,107.2 525.6,107.1" fill="#939393" stroke="#939393" stroke-width="0.6"/><path d="M522.4 97.8L523.6 97.8M525.6 107.1L526.5 107.2" stroke="#8a8a8a" stroke-width="0.7" fill="none"/><polygon points="534.9,64.6 535.7,64.8 538.9,74.1 537.8,74.0" fill="#c3c3c3" stroke="#c3c3c3" stroke-width="0.6"/><path d="M534.9 64.6L535.7 64.8M537.8 74.0L538.9 74.1" stroke="#8a8a8a" stroke-width="0.7" fill="none"/><polygon points="516.1,82.9 517.1,83.0 520.1,92.4 519.3,92.2" fill="#8c8c8c" stroke="#8c8c8c" stroke-width="0.6"/><path d="M516.1 82.9L517.1 83.0M519.3 92.2L520.1 92.4" stroke="#8a8a8a" stroke-width="0.7" fill="none"/><polygon points="541.2,79.4 541.9,79.6 545.2,88.9 544.2,88.8" fill="#bebebe" stroke="#bebebe" stroke-width="0.6"/><path d="M541.2 79.4L541.9 79.6M544.2 88.8L545.2 88.9" stroke="#8a8a8a" stroke-width="0.7" fill="none"/><polygon points="509.8,68.1 510.7,68.2 513.8,77.5 513.1,77.3" fill="#858585" stroke="#858585" stroke-width="0.6"/><path d="M509.8 68.1L510.7 68.2M513.1 77.3L513.8 77.5" stroke="#8a8a8a" stroke-width="0.7" fill="none"/><polygon points="547.6,94.3 548.1,94.6 551.5,103.8 550.7,103.6" fill="#b8b8b8" stroke="#b8b8b8" stroke-width="0.6"/><path d="M547.6 94.3L548.1 94.6M550.7 103.6L551.5 103.8" stroke="#8a8a8a" stroke-width="0.7" fill="none"/><polygon points="521.6,97.6 522.4,97.8 525.6,107.1 525.1,106.8" fill="#808080" stroke="#808080" stroke-width="0.6"/><path d="M521.6 97.6L522.4 97.8M525.1 106.8L525.6 107.1" stroke="#8a8a8a" stroke-width="0.7" fill="none"/><polygon points="535.7,64.8 536.1,65.1 539.6,74.2 538.9,74.1" fill="#b2b2b2" stroke="#b2b2b2" stroke-width="0.6"/><path d="M535.7 64.8L536.1 65.1M538.9 74.1L539.6 74.2" stroke="#8a8a8a" stroke-width="0.7" fill="none"/><polygon points="515.4,82.7 516.1,82.9 519.3,92.2 519.0,91.9" fill="#878787" stroke="#878787" stroke-width="0.6"/><path d="M515.4 82.7L516.1 82.9M519.0 91.9L519.3 92.2" stroke="#8a8a8a" stroke-width="0.7" fill="none"/><polygon points="541.9,79.6 542.3,80.0 545.9,89.1 545.2,88.9" fill="#acacac" stroke="#acacac" stroke-width="0.6"/><path d="M541.9 79.6L542.3 80.0M545.2 88.9L545.9 89.1" stroke="#8a8a8a" stroke-width="0.7" fill="none"/><polygon points="509.2,67.8 509.8,68.1 513.1,77.3 512.9,76.9" fill="#8d8d8d" stroke="#8d8d8d" stroke-width="0.6"/><path d="M509.2 67.8L509.8 68.1M512.9 76.9L513.1 77.3" stroke="#8a8a8a" stroke-width="0.7" fill="none"/><polygon points="521.2,97.3 521.6,97.6 525.1,106.8 525.0,106.4" fill="#959595" stroke="#959595" stroke-width="0.6"/><path d="M521.2 97.3L521.6 97.6M525.0 106.4L525.1 106.8" stroke="#8a8a8a" stroke-width="0.7" fill="none"/><polygon points="536.1,65.1 536.2,65.5 540.0,74.5 539.6,74.2" fill="#9e9e9e" stroke="#9e9e9e" stroke-width="0.6"/><path d="M536.1 65.1L536.2 65.5M539.6 74.2L540.0 74.5" stroke="#8a8a8a" stroke-width="0.7" fill="none"/><polygon points="515.1,82.4 515.4,82.7 519.0,91.9 519.0,91.4" fill="#9b9b9b" stroke="#9b9b9b" stroke-width="0.6"/><path d="M515.1 82.4L515.4 82.7M519.0 91.4L519.0 91.9" stroke="#8a8a8a" stroke-width="0.7" fill="none"/><polygon points="542.3,80.0 542.2,80.5 546.1,89.5 545.9,89.1" fill="#989898" stroke="#989898" stroke-width="0.6"/><path d="M542.3 80.0L542.2 80.5M545.9 89.1L546.1 89.5" stroke="#8a8a8a" stroke-width="0.7" fill="none"/><polygon points="509.0,67.4 509.2,67.8 512.9,76.9 513.0,76.4" fill="#a2a2a2" stroke="#a2a2a2" stroke-width="0.6"/><path d="M509.0 67.4L509.2 67.8M513.0 76.4L512.9 76.9" stroke="#8a8a8a" stroke-width="0.7" fill="none"/><polygon points="530.2,50.5 530.0,51.1 534.0,60.0 533.9,59.6" fill="#919191" stroke="#919191" stroke-width="0.6"/><path d="M530.2 50.5L530.0 51.1M533.9 59.6L534.0 60.0" stroke="#8a8a8a" stroke-width="0.7" fill="none"/><polygon points="521.1,96.9 521.2,97.3 525.0,106.4 525.2,105.8" fill="#a8a8a8" stroke="#a8a8a8" stroke-width="0.6"/><path d="M521.1 96.9L521.2 97.3M525.2 105.8L525.0 106.4" stroke="#8a8a8a" stroke-width="0.7" fill="none"/><polygon points="536.2,65.5 535.9,66.1 540.1,75.0 540.0,74.5" fill="#8a8a8a" stroke="#8a8a8a" stroke-width="0.6"/><path d="M536.2 65.5L535.9 66.1M540.0 74.5L540.1 75.0" stroke="#8a8a8a" stroke-width="0.7" fill="none"/><polygon points="515.1,81.9 515.1,82.4 519.0,91.4 519.3,90.8" fill="#afafaf" stroke="#afafaf" stroke-width="0.6"/><path d="M515.1 81.9L515.1 82.4M519.3 90.8L519.0 91.4" stroke="#8a8a8a" stroke-width="0.7" fill="none"/><polygon points="542.2,80.5 541.8,81.1 546.0,90.0 546.1,89.5" fill="#838383" stroke="#838383" stroke-width="0.6"/><path d="M542.2 80.5L541.8 81.1M546.1 89.5L546.0 90.0" stroke="#8a8a8a" stroke-width="0.7" fill="none"/><polygon points="509.2,66.9 509.0,67.4 513.0,76.4 513.5,75.7" fill="#b5b5b5" stroke="#b5b5b5" stroke-width="0.6"/><path d="M509.2 66.9L509.0 67.4M513.5 75.7L513.0 76.4" stroke="#8a8a8a" stroke-width="0.7" fill="none"/><polygon points="530.0,51.1 529.5,51.8 533.8,60.6 534.0,60.0" fill="#828282" stroke="#828282" stroke-width="0.6"/><path d="M530.0 51.1L529.5 51.8M534.0 60.0L533.8 60.6" stroke="#8a8a8a" stroke-width="0.7" fill="none"/><polygon points="521.4,96.3 521.1,96.9 525.2,105.8 525.8,105.1" fill="#bbbbbb" stroke="#bbbbbb" stroke-width="0.6"/><path d="M521.4 96.3L521.1 96.9M525.8 105.1L525.2 105.8" stroke="#8a8a8a" stroke-width="0.7" fill="none"/><polygon points="535.9,66.1 535.3,66.9 539.7,75.7 540.1,75.0" fill="#898989" stroke="#898989" stroke-width="0.6"/><path d="M535.9 66.1L535.3 66.9M540.1 75.0L539.7 75.7" stroke="#8a8a8a" stroke-width="0.7" fill="none"/><polygon points="515.5,81.2 515.1,81.9 519.3,90.8 520.0,90.0" fill="#c1c1c1" stroke="#c1c1c1" stroke-width="0.6"/><path d="M515.5 81.2L515.1 81.9M520.0 90.0L519.3 90.8" stroke="#8a8a8a" stroke-width="0.7" fill="none"/><polygon points="541.8,81.1 541.1,81.9 545.6,90.7 546.0,90.0" fill="#8f8f8f" stroke="#8f8f8f" stroke-width="0.6"/><path d="M541.8 81.1L541.1 81.9M546.0 90.0L545.6 90.7" stroke="#8a8a8a" stroke-width="0.7" fill="none"/><polygon points="509.7,66.2 509.2,66.9 513.5,75.7 514.3,74.9" fill="#c6c6c6" stroke="#c6c6c6" stroke-width="0.6"/><path d="M509.7 66.2L509.2 66.9M514.3 74.9L513.5 75.7" stroke="#8a8a8a" stroke-width="0.7" fill="none"/><polygon points="529.5,51.8 528.6,52.6 533.2,61.4 533.8,60.6" fill="#969696" stroke="#969696" stroke-width="0.6"/><path d="M529.5 51.8L528.6 52.6M533.8 60.6L533.2 61.4" stroke="#8a8a8a" stroke-width="0.7" fill="none"/><polygon points="522.1,95.5 521.4,96.3 525.8,105.1 526.8,104.2" fill="#cccccc" stroke="#cccccc" stroke-width="0.6"/><path d="M522.1 95.5L521.4 96.3M526.8 104.2L525.8 105.1" stroke="#8a8a8a" stroke-width="0.7" fill="none"/><polygon points="535.3,66.9 534.3,67.7 539.0,76.4 539.7,75.7" fill="#9d9d9d" stroke="#9d9d9d" stroke-width="0.6"/><path d="M535.3 66.9L534.3 67.7M539.7 75.7L539.0 76.4" stroke="#8a8a8a" stroke-width="0.7" fill="none"/><polygon points="516.3,80.4 515.5,81.2 520.0,90.0 521.1,89.1" fill="#d2d2d2" stroke="#d2d2d2" stroke-width="0.6"/><path d="M516.3 80.4L515.5 81.2M521.1 89.1L520.0 90.0" stroke="#8a8a8a" stroke-width="0.7" fill="none"/><polygon points="541.1,81.9 540.0,82.9 544.8,91.5 545.6,90.7" fill="#a4a4a4" stroke="#a4a4a4" stroke-width="0.6"/><path d="M541.1 81.9L540.0 82.9M545.6 90.7L544.8 91.5" stroke="#8a8a8a" stroke-width="0.7" fill="none"/><polygon points="510.6,65.3 509.7,66.2 514.3,74.9 515.4,74.0" fill="#d7d7d7" stroke="#d7d7d7" stroke-width="0.6"/><path d="M510.6 65.3L509.7 66.2M515.4 74.0L514.3 74.9" stroke="#8a8a8a" stroke-width="0.7" fill="none"/><polygon points="528.6,52.6 527.4,53.6 532.3,62.2 533.2,61.4" fill="#ababab" stroke="#ababab" stroke-width="0.6"/><path d="M528.6 52.6L527.4 53.6M533.2 61.4L532.3 62.2" stroke="#8a8a8a" stroke-width="0.7" fill="none"/><polygon points="523.1,94.6 522.1,95.5 526.8,104.2 528.0,103.2" fill="#dddddd" stroke="#dddddd" stroke-width="0.6"/><path d="M523.1 94.6L522.1 95.5M528.0 103.2L526.8 104.2" stroke="#8a8a8a" stroke-width="0.7" fill="none"/><polygon points="534.3,67.7 533.0,68.8 538.0,77.3 539.0,76.4" fill="#b1b1b1" stroke="#b1b1b1" stroke-width="0.6"/><path d="M534.3 67.7L533.0 68.8M539.0 76.4L538.0 77.3" stroke="#8a8a8a" stroke-width="0.7" fill="none"/><polygon points="517.4,79.5 516.3,80.4 521.1,89.1 522.4,88.1" fill="#e3e3e3" stroke="#e3e3e3" stroke-width="0.6"/><path d="M517.4 79.5L516.3 80.4M522.4 88.1L521.1 89.1" stroke="#8a8a8a" stroke-width="0.7" fill="none"/><polygon points="540.0,82.9 538.6,83.9 543.6,92.5 544.8,91.5" fill="#b8b8b8" stroke="#b8b8b8" stroke-width="0.6"/><path d="M540.0 82.9L538.6 83.9M544.8 91.5L543.6 92.5" stroke="#8a8a8a" stroke-width="0.7" fill="none"/><polygon points="511.8,64.4 510.6,65.3 515.4,74.0 516.8,72.9" fill="#e9e9e9" stroke="#e9e9e9" stroke-width="0.6"/><path d="M511.8 64.4L510.6 65.3M516.8 72.9L515.4 74.0" stroke="#8a8a8a" stroke-width="0.7" fill="none"/><polygon points="527.4,53.6 526.0,54.7 531.1,63.2 532.3,62.2" fill="#bfbfbf" stroke="#bfbfbf" stroke-width="0.6"/><path d="M527.4 53.6L526.0 54.7M532.3 62.2L531.1 63.2" stroke="#8a8a8a" stroke-width="0.7" fill="none"/><polygon points="524.4,93.6 523.1,94.6 528.0,103.2 529.5,102.1" fill="#f0f0f0" stroke="#f0f0f0" stroke-width="0.6"/><path d="M524.4 93.6L523.1 94.6M529.5 102.1L528.0 103.2" stroke="#8a8a8a" stroke-width="0.7" fill="none"/><polygon points="533.0,68.8 531.5,69.9 536.7,78.4 538.0,77.3" fill="#c6c6c6" stroke="#c6c6c6" stroke-width="0.6"/><path d="M533.0 68.8L531.5 69.9M538.0 77.3L536.7 78.4" stroke="#8a8a8a" stroke-width="0.7" fill="none"/><polygon points="518.8,78.5 517.4,79.5 522.4,88.1 524.0,86.9" fill="#f7f7f7" stroke="#f7f7f7" stroke-width="0.6"/><path d="M518.8 78.5L517.4 79.5M524.0 86.9L522.4 88.1" stroke="#8a8a8a" stroke-width="0.7" fill="none"/><polygon points="538.6,83.9 537.0,85.0 542.2,93.5 543.6,92.5" fill="#cdcdcd" stroke="#cdcdcd" stroke-width="0.6"/><path d="M538.6 83.9L537.0 85.0M543.6 92.5L542.2 93.5" stroke="#8a8a8a" stroke-width="0.7" fill="none"/><polygon points="513.2,63.3 511.8,64.4 516.8,72.9 518.4,71.8" fill="#fefefe" stroke="#fefefe" stroke-width="0.6"/><path d="M513.2 63.3L511.8 64.4M518.4 71.8L516.8 72.9" stroke="#8a8a8a" stroke-width="0.7" fill="none"/><polygon points="526.0,54.7 524.3,55.8 529.6,64.3 531.1,63.2" fill="#d5d5d5" stroke="#d5d5d5" stroke-width="0.6"/><path d="M526.0 54.7L524.3 55.8M531.1 63.2L529.6 64.3" stroke="#8a8a8a" stroke-width="0.7" fill="none"/><polygon points="525.9,92.5 524.4,93.6 529.5,102.1 531.2,100.9" fill="#ffffff" stroke="#ffffff" stroke-width="0.6"/><path d="M525.9 92.5L524.4 93.6M531.2 100.9L529.5 102.1" stroke="#8a8a8a" stroke-width="0.7" fill="none"/><polygon points="531.5,69.9 529.8,71.0 535.1,79.5 536.7,78.4" fill="#dedede" stroke="#dedede" stroke-width="0.6"/><path d="M531.5 69.9L529.8 71.0M536.7 78.4L535.1 79.5" stroke="#8a8a8a" stroke-width="0.7" fill="none"/><polygon points="520.4,77.3 518.8,78.5 524.0,86.9 525.7,85.7" fill="#ffffff" stroke="#ffffff" stroke-width="0.6"/><path d="M520.4 77.3L518.8 78.5M525.7 85.7L524.0 86.9" stroke="#8a8a8a" stroke-width="0.7" fill="none"/><polygon points="537.0,85.0 535.3,86.3 540.6,94.7 542.2,93.5" fill="#e6e6e6" stroke="#e6e6e6" stroke-width="0.6"/><path d="M537.0 85.0L535.3 86.3M542.2 93.5L540.6 94.7" stroke="#8a8a8a" stroke-width="0.7" fill="none"/><polygon points="514.9,62.1 513.2,63.3 518.4,71.8 520.2,70.5" fill="#ffffff" stroke="#ffffff" stroke-width="0.6"/><path d="M514.9 62.1L513.2 63.3M520.2 70.5L518.4 71.8" stroke="#8a8a8a" stroke-width="0.7" fill="none"/><polygon points="524.3,55.8 522.5,57.1 527.9,65.5 529.6,64.3" fill="#f0f0f0" stroke="#f0f0f0" stroke-width="0.6"/><path d="M524.3 55.8L522.5 57.1M529.6 64.3L527.9 65.5" stroke="#8a8a8a" stroke-width="0.7" fill="none"/><polygon points="527.6,91.3 525.9,92.5 531.2,100.9 533.0,99.7" fill="#ffffff" stroke="#ffffff" stroke-width="0.6"/><path d="M527.6 91.3L525.9 92.5M533.0 99.7L531.2 100.9" stroke="#8a8a8a" stroke-width="0.7" fill="none"/><polygon points="529.8,71.0 527.9,72.3 533.3,80.7 535.1,79.5" fill="#fafafa" stroke="#fafafa" stroke-width="0.6"/><path d="M529.8 71.0L527.9 72.3M535.1 79.5L533.3 80.7" stroke="#8a8a8a" stroke-width="0.7" fill="none"/><polygon points="522.1,76.1 520.4,77.3 525.7,85.7 527.6,84.5" fill="#ffffff" stroke="#ffffff" stroke-width="0.6"/><path d="M522.1 76.1L520.4 77.3M527.6 84.5L525.7 85.7" stroke="#8a8a8a" stroke-width="0.7" fill="none"/><polygon points="535.3,86.3 533.4,87.5 538.8,95.9 540.6,94.7" fill="#ffffff" stroke="#ffffff" stroke-width="0.6"/><path d="M535.3 86.3L533.4 87.5M540.6 94.7L538.8 95.9" stroke="#8a8a8a" stroke-width="0.7" fill="none"/><polygon points="516.7,60.9 514.9,62.1 520.2,70.5 522.2,69.3" fill="#ffffff" stroke="#ffffff" stroke-width="0.6"/><path d="M516.7 60.9L514.9 62.1M522.2 69.3L520.2 70.5" stroke="#8a8a8a" stroke-width="0.7" fill="none"/><polygon points="522.5,57.1 520.6,58.3 526.0,66.7 527.9,65.5" fill="#ffffff" stroke="#ffffff" stroke-width="0.6"/><path d="M522.5 57.1L520.6 58.3M527.9 65.5L526.0 66.7" stroke="#8a8a8a" stroke-width="0.7" fill="none"/><polygon points="529.5,90.1 527.6,91.3 533.0,99.7 535.0,98.4" fill="#ffffff" stroke="#ffffff" stroke-width="0.6"/><path d="M529.5 90.1L527.6 91.3M535.0 98.4L533.0 99.7" stroke="#8a8a8a" stroke-width="0.7" fill="none"/><polygon points="527.9,72.3 526.0,73.6 531.5,81.9 533.3,80.7" fill="#ffffff" stroke="#ffffff" stroke-width="0.6"/><path d="M527.9 72.3L526.0 73.6M533.3 80.7L531.5 81.9" stroke="#8a8a8a" stroke-width="0.7" fill="none"/><polygon points="524.0,74.9 522.1,76.1 527.6,84.5 529.5,83.2" fill="#ffffff" stroke="#ffffff" stroke-width="0.6"/><path d="M524.0 74.9L522.1 76.1M529.5 83.2L527.6 84.5" stroke="#8a8a8a" stroke-width="0.7" fill="none"/><polygon points="533.4,87.5 531.4,88.8 536.9,97.2 538.8,95.9" fill="#ffffff" stroke="#ffffff" stroke-width="0.6"/><path d="M533.4 87.5L531.4 88.8M538.8 95.9L536.9 97.2" stroke="#8a8a8a" stroke-width="0.7" fill="none"/><polygon points="518.6,59.6 516.7,60.9 522.2,69.3 524.1,68.0" fill="#ffffff" stroke="#ffffff" stroke-width="0.6"/><path d="M518.6 59.6L516.7 60.9M524.1 68.0L522.2 69.3" stroke="#8a8a8a" stroke-width="0.7" fill="none"/><polygon points="520.6,58.3 518.6,59.6 524.1,68.0 526.0,66.7" fill="#ffffff" stroke="#ffffff" stroke-width="0.6"/><path d="M520.6 58.3L518.6 59.6M526.0 66.7L524.1 68.0" stroke="#8a8a8a" stroke-width="0.7" fill="none"/><polygon points="531.4,88.8 529.5,90.1 535.0,98.4 536.9,97.2" fill="#ffffff" stroke="#ffffff" stroke-width="0.6"/><path d="M531.4 88.8L529.5 90.1M536.9 97.2L535.0 98.4" stroke="#8a8a8a" stroke-width="0.7" fill="none"/><polygon points="526.0,73.6 524.0,74.9 529.5,83.2 531.5,81.9" fill="#ffffff" stroke="#ffffff" stroke-width="0.6"/><path d="M526.0 73.6L524.0 74.9M531.5 81.9L529.5 83.2" stroke="#8a8a8a" stroke-width="0.7" fill="none"/>
<polygon points="683.9,145.9 685.7,144.2 692.7,151.4 690.9,153.1" fill="#f6f6f6" stroke="#f6f6f6" stroke-width="0.6"/><path d="M683.9 145.9L685.7 144.2M690.9 153.1L692.7 151.4" stroke="#8a8a8a" stroke-width="0.7" fill="none"/><polygon points="672.2,138.0 674.0,136.3 681.0,143.5 679.2,145.2" fill="#f7f7f7" stroke="#f7f7f7" stroke-width="0.6"/><path d="M672.2 138.0L674.0 136.3M679.2 145.2L681.0 143.5" stroke="#8a8a8a" stroke-width="0.7" fill="none"/><polygon points="662.3,128.4 664.0,126.7 671.0,133.9 669.2,135.6" fill="#f4f4f4" stroke="#f4f4f4" stroke-width="0.6"/><path d="M662.3 128.4L664.0 126.7M669.2 135.6L671.0 133.9" stroke="#8a8a8a" stroke-width="0.7" fill="none"/><polygon points="660.5,130.2 662.3,128.4 669.2,135.6 667.4,137.3" fill="#f8f8f8" stroke="#f8f8f8" stroke-width="0.6"/><path d="M660.5 130.2L662.3 128.4M667.4 137.3L669.2 135.6" stroke="#8a8a8a" stroke-width="0.7" fill="none"/><polygon points="674.0,136.3 675.8,134.6 682.7,141.8 681.0,143.5" fill="#f2f2f2" stroke="#f2f2f2" stroke-width="0.6"/><path d="M674.0 136.3L675.8 134.6M681.0 143.5L682.7 141.8" stroke="#8a8a8a" stroke-width="0.7" fill="none"/><polygon points="682.2,147.6 683.9,145.9 690.9,153.1 689.1,154.8" fill="#f8f8f8" stroke="#f8f8f8" stroke-width="0.6"/><path d="M682.2 147.6L683.9 145.9M689.1 154.8L690.9 153.1" stroke="#8a8a8a" stroke-width="0.7" fill="none"/><polygon points="685.7,144.2 687.5,142.5 694.5,149.6 692.7,151.4" fill="#efefef" stroke="#efefef" stroke-width="0.6"/><path d="M685.7 144.2L687.5 142.5M692.7 151.4L694.5 149.6" stroke="#8a8a8a" stroke-width="0.7" fill="none"/><polygon points="670.4,139.8 672.2,138.0 679.2,145.2 677.4,146.9" fill="#f8f8f8" stroke="#f8f8f8" stroke-width="0.6"/><path d="M670.4 139.8L672.2 138.0M677.4 146.9L679.2 145.2" stroke="#8a8a8a" stroke-width="0.7" fill="none"/><polygon points="664.0,126.7 665.8,125.1 672.8,132.2 671.0,133.9" fill="#ececec" stroke="#ececec" stroke-width="0.6"/><path d="M664.0 126.7L665.8 125.1M671.0 133.9L672.8 132.2" stroke="#8a8a8a" stroke-width="0.7" fill="none"/><polygon points="658.7,131.9 660.5,130.2 667.4,137.3 665.7,139.0" fill="#f8f8f8" stroke="#f8f8f8" stroke-width="0.6"/><path d="M658.7 131.9L660.5 130.2M665.7 139.0L667.4 137.3" stroke="#8a8a8a" stroke-width="0.7" fill="none"/><polygon points="675.8,134.6 677.5,133.0 684.5,140.1 682.7,141.8" fill="#e9e9e9" stroke="#e9e9e9" stroke-width="0.6"/><path d="M675.8 134.6L677.5 133.0M682.7 141.8L684.5 140.1" stroke="#8a8a8a" stroke-width="0.7" fill="none"/><polygon points="680.4,149.3 682.2,147.6 689.1,154.8 687.5,156.4" fill="#f7f7f7" stroke="#f7f7f7" stroke-width="0.6"/><path d="M680.4 149.3L682.2 147.6M687.5 156.4L689.1 154.8" stroke="#8a8a8a" stroke-width="0.7" fill="none"/><polygon points="687.5,142.5 689.2,140.9 696.2,148.0 694.5,149.6" fill="#e6e6e6" stroke="#e6e6e6" stroke-width="0.6"/><path d="M687.5 142.5L689.2 140.9M694.5 149.6L696.2 148.0" stroke="#8a8a8a" stroke-width="0.7" fill="none"/><polygon points="668.7,141.4 670.4,139.8 677.4,146.9 675.8,148.4" fill="#f6f6f6" stroke="#f6f6f6" stroke-width="0.6"/><path d="M668.7 141.4L670.4 139.8M675.8 148.4L677.4 146.9" stroke="#8a8a8a" stroke-width="0.7" fill="none"/><polygon points="665.8,125.1 667.4,123.6 674.5,130.6 672.8,132.2" fill="#e1e1e1" stroke="#e1e1e1" stroke-width="0.6"/><path d="M665.8 125.1L667.4 123.6M672.8 132.2L674.5 130.6" stroke="#8a8a8a" stroke-width="0.7" fill="none"/><polygon points="657.0,133.4 658.7,131.9 665.7,139.0 664.1,140.4" fill="#f5f5f5" stroke="#f5f5f5" stroke-width="0.6"/><path d="M657.0 133.4L658.7 131.9M664.1 140.4L665.7 139.0" stroke="#8a8a8a" stroke-width="0.7" fill="none"/><polygon points="677.5,133.0 679.0,131.5 686.2,138.5 684.5,140.1" fill="#dddddd" stroke="#dddddd" stroke-width="0.6"/><path d="M677.5 133.0L679.0 131.5M684.5 140.1L686.2 138.5" stroke="#8a8a8a" stroke-width="0.7" fill="none"/><polygon points="678.8,150.8 680.4,149.3 687.5,156.4 685.9,157.8" fill="#f2f2f2" stroke="#f2f2f2" stroke-width="0.6"/><path d="M678.8 150.8L680.4 149.3M685.9 157.8L687.5 156.4" stroke="#8a8a8a" stroke-width="0.7" fill="none"/><polygon points="689.2,140.9 690.7,139.5 697.8,146.5 696.2,148.0" fill="#d9d9d9" stroke="#d9d9d9" stroke-width="0.6"/><path d="M689.2 140.9L690.7 139.5M696.2 148.0L697.8 146.5" stroke="#8a8a8a" stroke-width="0.7" fill="none"/><polygon points="667.1,142.9 668.7,141.4 675.8,148.4 674.3,149.8" fill="#f0f0f0" stroke="#f0f0f0" stroke-width="0.6"/><path d="M667.1 142.9L668.7 141.4M674.3 149.8L675.8 148.4" stroke="#8a8a8a" stroke-width="0.7" fill="none"/><polygon points="667.4,123.6 668.9,122.2 676.0,129.1 674.5,130.6" fill="#d3d3d3" stroke="#d3d3d3" stroke-width="0.6"/><path d="M667.4 123.6L668.9 122.2M674.5 130.6L676.0 129.1" stroke="#8a8a8a" stroke-width="0.7" fill="none"/><polygon points="655.5,134.9 657.0,133.4 664.1,140.4 662.7,141.7" fill="#eeeeee" stroke="#eeeeee" stroke-width="0.6"/><path d="M655.5 134.9L657.0 133.4M662.7 141.7L664.1 140.4" stroke="#8a8a8a" stroke-width="0.7" fill="none"/><polygon points="679.0,131.5 680.5,130.3 687.7,137.1 686.2,138.5" fill="#cecece" stroke="#cecece" stroke-width="0.6"/><path d="M679.0 131.5L680.5 130.3M686.2 138.5L687.7 137.1" stroke="#8a8a8a" stroke-width="0.7" fill="none"/><polygon points="677.3,152.2 678.8,150.8 685.9,157.8 684.5,159.0" fill="#eaeaea" stroke="#eaeaea" stroke-width="0.6"/><path d="M677.3 152.2L678.8 150.8M684.5 159.0L685.9 157.8" stroke="#8a8a8a" stroke-width="0.7" fill="none"/><polygon points="690.7,139.5 692.1,138.4 699.3,145.2 697.8,146.5" fill="#c9c9c9" stroke="#c9c9c9" stroke-width="0.6"/><path d="M690.7 139.5L692.1 138.4M697.8 146.5L699.3 145.2" stroke="#8a8a8a" stroke-width="0.7" fill="none"/><polygon points="665.7,144.1 667.1,142.9 674.3,149.8 673.0,150.9" fill="#e7e7e7" stroke="#e7e7e7" stroke-width="0.6"/><path d="M665.7 144.1L667.1 142.9M673.0 150.9L674.3 149.8" stroke="#8a8a8a" stroke-width="0.7" fill="none"/><polygon points="668.9,122.2 670.2,121.1 677.5,127.9 676.0,129.1" fill="#c2c2c2" stroke="#c2c2c2" stroke-width="0.6"/><path d="M668.9 122.2L670.2 121.1M676.0 129.1L677.5 127.9" stroke="#8a8a8a" stroke-width="0.7" fill="none"/><polygon points="654.1,136.1 655.5,134.9 662.7,141.7 661.4,142.8" fill="#e3e3e3" stroke="#e3e3e3" stroke-width="0.6"/><path d="M654.1 136.1L655.5 134.9M661.4 142.8L662.7 141.7" stroke="#8a8a8a" stroke-width="0.7" fill="none"/><polygon points="680.5,130.3 681.7,129.3 689.1,136.0 687.7,137.1" fill="#bdbdbd" stroke="#bdbdbd" stroke-width="0.6"/><path d="M680.5 130.3L681.7 129.3M687.7 137.1L689.1 136.0" stroke="#8a8a8a" stroke-width="0.7" fill="none"/><polygon points="676.0,153.3 677.3,152.2 684.5,159.0 683.3,159.9" fill="#dedede" stroke="#dedede" stroke-width="0.6"/><path d="M676.0 153.3L677.3 152.2M683.3 159.9L684.5 159.0" stroke="#8a8a8a" stroke-width="0.7" fill="none"/><polygon points="692.1,138.4 693.3,137.4 700.6,144.1 699.3,145.2" fill="#b7b7b7" stroke="#b7b7b7" stroke-width="0.6"/><path d="M692.1 138.4L693.3 137.4M699.3 145.2L700.6 144.1" stroke="#8a8a8a" stroke-width="0.7" fill="none"/><polygon points="664.4,145.2 665.7,144.1 673.0,150.9 671.8,151.8" fill="#dadada" stroke="#dadada" stroke-width="0.6"/><path d="M664.4 145.2L665.7 144.1M671.8 151.8L673.0 150.9" stroke="#8a8a8a" stroke-width="0.7" fill="none"/><polygon points="670.2,121.1 671.3,120.3 678.7,126.9 677.5,127.9" fill="#afafaf" stroke="#afafaf" stroke-width="0.6"/><path d="M670.2 121.1L671.3 120.3M677.5 127.9L678.7 126.9" stroke="#8a8a8a" stroke-width="0.7" fill="none"/><polygon points="652.9,137.0 654.1,136.1 661.4,142.8 660.3,143.6" fill="#d6d6d6" stroke="#d6d6d6" stroke-width="0.6"/><path d="M652.9 137.0L654.1 136.1M660.3 143.6L661.4 142.8" stroke="#8a8a8a" stroke-width="0.7" fill="none"/><polygon points="681.7,129.3 682.8,128.6 690.2,135.1 689.1,136.0" fill="#a9a9a9" stroke="#a9a9a9" stroke-width="0.6"/><path d="M681.7 129.3L682.8 128.6M689.1 136.0L690.2 135.1" stroke="#8a8a8a" stroke-width="0.7" fill="none"/><polygon points="674.9,154.1 676.0,153.3 683.3,159.9 682.4,160.6" fill="#d0d0d0" stroke="#d0d0d0" stroke-width="0.6"/><path d="M674.9 154.1L676.0 153.3M682.4 160.6L683.3 159.9" stroke="#8a8a8a" stroke-width="0.7" fill="none"/><polygon points="663.4,145.9 664.4,145.2 671.8,151.8 670.9,152.3" fill="#cbcbcb" stroke="#cbcbcb" stroke-width="0.6"/><path d="M663.4 145.9L664.4 145.2M670.9 152.3L671.8 151.8" stroke="#8a8a8a" stroke-width="0.7" fill="none"/><polygon points="671.3,120.3 672.1,119.8 679.7,126.2 678.7,126.9" fill="#9b9b9b" stroke="#9b9b9b" stroke-width="0.6"/><path d="M671.3 120.3L672.1 119.8M678.7 126.9L679.7 126.2" stroke="#8a8a8a" stroke-width="0.7" fill="none"/><polygon points="651.9,137.7 652.9,137.0 660.3,143.6 659.5,144.0" fill="#c6c6c6" stroke="#c6c6c6" stroke-width="0.6"/><path d="M651.9 137.7L652.9 137.0M659.5 144.0L660.3 143.6" stroke="#8a8a8a" stroke-width="0.7" fill="none"/><polygon points="682.8,128.6 683.6,128.1 691.2,134.4 690.2,135.1" fill="#959595" stroke="#959595" stroke-width="0.6"/><path d="M682.8 128.6L683.6 128.1M690.2 135.1L691.2 134.4" stroke="#8a8a8a" stroke-width="0.7" fill="none"/><polygon points="674.0,154.7 674.9,154.1 682.4,160.6 681.6,160.9" fill="#bebebe" stroke="#bebebe" stroke-width="0.6"/><path d="M674.0 154.7L674.9 154.1M681.6 160.9L682.4 160.6" stroke="#8a8a8a" stroke-width="0.7" fill="none"/><polygon points="662.5,146.4 663.4,145.9 670.9,152.3 670.3,152.5" fill="#b9b9b9" stroke="#b9b9b9" stroke-width="0.6"/><path d="M662.5 146.4L663.4 145.9M670.3 152.5L670.9 152.3" stroke="#8a8a8a" stroke-width="0.7" fill="none"/><polygon points="672.1,119.8 672.8,119.7 680.5,125.8 679.7,126.2" fill="#868686" stroke="#868686" stroke-width="0.6"/><path d="M672.1 119.8L672.8 119.7M679.7 126.2L680.5 125.8" stroke="#8a8a8a" stroke-width="0.7" fill="none"/><polygon points="651.1,138.0 651.9,137.7 659.5,144.0 658.9,144.1" fill="#b3b3b3" stroke="#b3b3b3" stroke-width="0.6"/><path d="M651.1 138.0L651.9 137.7M658.9 144.1L659.5 144.0" stroke="#8a8a8a" stroke-width="0.7" fill="none"/><polygon points="683.6,128.1 684.1,128.1 691.9,134.2 691.2,134.4" fill="#808080" stroke="#808080" stroke-width="0.6"/><path d="M683.6 128.1L684.1 128.1M691.2 134.4L691.9 134.2" stroke="#8a8a8a" stroke-width="0.7" fill="none"/><polygon points="673.3,154.9 674.0,154.7 681.6,160.9 681.1,160.9" fill="#ababab" stroke="#ababab" stroke-width="0.6"/><path d="M673.3 154.9L674.0 154.7M681.1 160.9L681.6 160.9" stroke="#8a8a8a" stroke-width="0.7" fill="none"/><polygon points="662.0,146.5 662.5,146.4 670.3,152.5 669.9,152.4" fill="#a5a5a5" stroke="#a5a5a5" stroke-width="0.6"/><path d="M662.0 146.5L662.5 146.4M669.9 152.4L670.3 152.5" stroke="#8a8a8a" stroke-width="0.7" fill="none"/><polygon points="672.8,119.7 673.1,119.8 681.0,125.8 680.5,125.8" fill="#8d8d8d" stroke="#8d8d8d" stroke-width="0.6"/><path d="M672.8 119.7L673.1 119.8M680.5 125.8L681.0 125.8" stroke="#8a8a8a" stroke-width="0.7" fill="none"/><polygon points="650.7,138.0 651.1,138.0 658.9,144.1 658.6,143.9" fill="#9f9f9f" stroke="#9f9f9f" stroke-width="0.6"/><path d="M650.7 138.0L651.1 138.0M658.6 143.9L658.9 144.1" stroke="#8a8a8a" stroke-width="0.7" fill="none"/><polygon points="684.1,128.1 684.4,128.4 692.3,134.2 691.9,134.2" fill="#949494" stroke="#949494" stroke-width="0.6"/><path d="M684.1 128.1L684.4 128.4M691.9 134.2L692.3 134.2" stroke="#8a8a8a" stroke-width="0.7" fill="none"/><polygon points="672.9,154.7 673.3,154.9 681.1,160.9 680.9,160.5" fill="#979797" stroke="#979797" stroke-width="0.6"/><path d="M672.9 154.7L673.3 154.9M680.9 160.5L681.1 160.9" stroke="#8a8a8a" stroke-width="0.7" fill="none"/><polygon points="661.7,146.2 662.0,146.5 669.9,152.4 669.7,151.9" fill="#919191" stroke="#919191" stroke-width="0.6"/><path d="M661.7 146.2L662.0 146.5M669.7 151.9L669.9 152.4" stroke="#8a8a8a" stroke-width="0.7" fill="none"/><polygon points="673.1,119.8 673.2,120.4 681.3,126.1 681.0,125.8" fill="#a2a2a2" stroke="#a2a2a2" stroke-width="0.6"/><path d="M673.1 119.8L673.2 120.4M681.0 125.8L681.3 126.1" stroke="#8a8a8a" stroke-width="0.7" fill="none"/><polygon points="650.4,137.7 650.7,138.0 658.6,143.9 658.5,143.3" fill="#8a8a8a" stroke="#8a8a8a" stroke-width="0.6"/><path d="M650.4 137.7L650.7 138.0M658.5 143.3L658.6 143.9" stroke="#8a8a8a" stroke-width="0.7" fill="none"/><polygon points="684.4,128.4 684.4,129.0 692.5,134.6 692.3,134.2" fill="#a8a8a8" stroke="#a8a8a8" stroke-width="0.6"/><path d="M684.4 128.4L684.4 129.0M692.3 134.2L692.5 134.6" stroke="#8a8a8a" stroke-width="0.7" fill="none"/><polygon points="672.8,154.2 672.9,154.7 680.9,160.5 681.0,159.8" fill="#828282" stroke="#828282" stroke-width="0.6"/><path d="M672.8 154.2L672.9 154.7M681.0 159.8L680.9 160.5" stroke="#8a8a8a" stroke-width="0.7" fill="none"/><polygon points="661.6,145.6 661.7,146.2 669.7,151.9 669.8,151.1" fill="#838383" stroke="#838383" stroke-width="0.6"/><path d="M661.6 145.6L661.7 146.2M669.8 151.1L669.7 151.9" stroke="#8a8a8a" stroke-width="0.7" fill="none"/><polygon points="673.2,120.4 673.1,121.2 681.3,126.7 681.3,126.1" fill="#b6b6b6" stroke="#b6b6b6" stroke-width="0.6"/><path d="M673.2 120.4L673.1 121.2M681.3 126.1L681.3 126.7" stroke="#8a8a8a" stroke-width="0.7" fill="none"/><polygon points="650.5,137.0 650.4,137.7 658.5,143.3 658.7,142.4" fill="#898989" stroke="#898989" stroke-width="0.6"/><path d="M650.5 137.0L650.4 137.7M658.7 142.4L658.5 143.3" stroke="#8a8a8a" stroke-width="0.7" fill="none"/><polygon points="684.4,129.0 684.2,129.9 692.4,135.4 692.5,134.6" fill="#bcbcbc" stroke="#bcbcbc" stroke-width="0.6"/><path d="M684.4 129.0L684.2 129.9M692.5 134.6L692.4 135.4" stroke="#8a8a8a" stroke-width="0.7" fill="none"/><polygon points="672.9,153.4 672.8,154.2 681.0,159.8 681.3,158.8" fill="#929292" stroke="#929292" stroke-width="0.6"/><path d="M672.9 153.4L672.8 154.2M681.3 158.8L681.0 159.8" stroke="#8a8a8a" stroke-width="0.7" fill="none"/><polygon points="661.9,112.5 661.6,113.6 669.9,119.0 670.1,118.1" fill="#c3c3c3" stroke="#c3c3c3" stroke-width="0.6"/><path d="M661.9 112.5L661.6 113.6M670.1 118.1L669.9 119.0" stroke="#8a8a8a" stroke-width="0.7" fill="none"/><polygon points="661.8,144.7 661.6,145.6 669.8,151.1 670.2,150.0" fill="#989898" stroke="#989898" stroke-width="0.6"/><path d="M661.8 144.7L661.6 145.6M670.2 150.0L669.8 151.1" stroke="#8a8a8a" stroke-width="0.7" fill="none"/><polygon points="673.1,121.2 672.7,122.4 681.0,127.7 681.3,126.7" fill="#c8c8c8" stroke="#c8c8c8" stroke-width="0.6"/><path d="M673.1 121.2L672.7 122.4M681.3 126.7L681.0 127.7" stroke="#8a8a8a" stroke-width="0.7" fill="none"/><polygon points="650.7,136.0 650.5,137.0 658.7,142.4 659.1,141.2" fill="#9f9f9f" stroke="#9f9f9f" stroke-width="0.6"/><path d="M650.7 136.0L650.5 137.0M659.1 141.2L658.7 142.4" stroke="#8a8a8a" stroke-width="0.7" fill="none"/><polygon points="684.2,129.9 683.7,131.2 692.1,136.4 692.4,135.4" fill="#cdcdcd" stroke="#cdcdcd" stroke-width="0.6"/><path d="M684.2 129.9L683.7 131.2M692.4 135.4L692.1 136.4" stroke="#8a8a8a" stroke-width="0.7" fill="none"/><polygon points="673.3,152.3 672.9,153.4 681.3,158.8 681.8,157.4" fill="#a7a7a7" stroke="#a7a7a7" stroke-width="0.6"/><path d="M673.3 152.3L672.9 153.4M681.8 157.4L681.3 158.8" stroke="#8a8a8a" stroke-width="0.7" fill="none"/><polygon points="661.6,113.6 661.1,115.0 669.5,120.1 669.9,119.0" fill="#d4d4d4" stroke="#d4d4d4" stroke-width="0.6"/><path d="M661.6 113.6L661.1 115.0M669.9 119.0L669.5 120.1" stroke="#8a8a8a" stroke-width="0.7" fill="none"/><polygon points="662.3,143.5 661.8,144.7 670.2,150.0 670.8,148.6" fill="#aeaeae" stroke="#aeaeae" stroke-width="0.6"/><path d="M662.3 143.5L661.8 144.7M670.8 148.6L670.2 150.0" stroke="#8a8a8a" stroke-width="0.7" fill="none"/><polygon points="672.7,122.4 672.1,123.9 680.6,129.0 681.0,127.7" fill="#d8d8d8" stroke="#d8d8d8" stroke-width="0.6"/><path d="M672.7 122.4L672.1 123.9M681.0 127.7L680.6 129.0" stroke="#8a8a8a" stroke-width="0.7" fill="none"/><polygon points="651.2,134.6 650.7,136.0 659.1,141.2 659.8,139.7" fill="#b5b5b5" stroke="#b5b5b5" stroke-width="0.6"/><path d="M651.2 134.6L650.7 136.0M659.8 139.7L659.1 141.2" stroke="#8a8a8a" stroke-width="0.7" fill="none"/><polygon points="683.7,131.2 683.0,132.7 691.6,137.8 692.1,136.4" fill="#dddddd" stroke="#dddddd" stroke-width="0.6"/><path d="M683.7 131.2L683.0 132.7M692.1 136.4L691.6 137.8" stroke="#8a8a8a" stroke-width="0.7" fill="none"/><polygon points="673.9,150.8 673.3,152.3 681.8,157.4 682.5,155.8" fill="#bebebe" stroke="#bebebe" stroke-width="0.6"/><path d="M673.9 150.8L673.3 152.3M682.5 155.8L681.8 157.4" stroke="#8a8a8a" stroke-width="0.7" fill="none"/><polygon points="661.1,115.0 660.3,116.6 668.9,121.6 669.5,120.1" fill="#e3e3e3" stroke="#e3e3e3" stroke-width="0.6"/><path d="M661.1 115.0L660.3 116.6M669.5 120.1L668.9 121.6" stroke="#8a8a8a" stroke-width="0.7" fill="none"/><polygon points="662.9,141.9 662.3,143.5 670.8,148.6 671.5,146.9" fill="#c6c6c6" stroke="#c6c6c6" stroke-width="0.6"/><path d="M662.9 141.9L662.3 143.5M671.5 146.9L670.8 148.6" stroke="#8a8a8a" stroke-width="0.7" fill="none"/><polygon points="672.1,123.9 671.3,125.6 679.9,130.5 680.6,129.0" fill="#e7e7e7" stroke="#e7e7e7" stroke-width="0.6"/><path d="M672.1 123.9L671.3 125.6M680.6 129.0L679.9 130.5" stroke="#8a8a8a" stroke-width="0.7" fill="none"/><polygon points="651.9,133.0 651.2,134.6 659.8,139.7 660.6,138.0" fill="#cecece" stroke="#cecece" stroke-width="0.6"/><path d="M651.9 133.0L651.2 134.6M660.6 138.0L659.8 139.7" stroke="#8a8a8a" stroke-width="0.7" fill="none"/><polygon points="683.0,132.7 682.2,134.5 690.9,139.4 691.6,137.8" fill="#ececec" stroke="#ececec" stroke-width="0.6"/><path d="M683.0 132.7L682.2 134.5M691.6 137.8L690.9 139.4" stroke="#8a8a8a" stroke-width="0.7" fill="none"/><polygon points="674.7,149.1 673.9,150.8 682.5,155.8 683.4,154.0" fill="#dadada" stroke="#dadada" stroke-width="0.6"/><path d="M674.7 149.1L673.9 150.8M683.4 154.0L682.5 155.8" stroke="#8a8a8a" stroke-width="0.7" fill="none"/><polygon points="660.3,116.6 659.4,118.5 668.1,123.4 668.9,121.6" fill="#f2f2f2" stroke="#f2f2f2" stroke-width="0.6"/><path d="M660.3 116.6L659.4 118.5M668.9 121.6L668.1 123.4" stroke="#8a8a8a" stroke-width="0.7" fill="none"/><polygon points="663.7,140.2 662.9,141.9 671.5,146.9 672.5,145.0" fill="#e3e3e3" stroke="#e3e3e3" stroke-width="0.6"/><path d="M663.7 140.2L662.9 141.9M672.5 145.0L671.5 146.9" stroke="#8a8a8a" stroke-width="0.7" fill="none"/><polygon points="671.3,125.6 670.3,127.5 679.0,132.3 679.9,130.5" fill="#f7f7f7" stroke="#f7f7f7" stroke-width="0.6"/><path d="M671.3 125.6L670.3 127.5M679.9 130.5L679.0 132.3" stroke="#8a8a8a" stroke-width="0.7" fill="none"/><polygon points="652.8,131.2 651.9,133.0 660.6,138.0 661.6,136.0" fill="#ececec" stroke="#ececec" stroke-width="0.6"/><path d="M652.8 131.2L651.9 133.0M661.6 136.0L660.6 138.0" stroke="#8a8a8a" stroke-width="0.7" fill="none"/><polygon points="682.2,134.5 681.2,136.5 690.0,141.3 690.9,139.4" fill="#fcfcfc" stroke="#fcfcfc" stroke-width="0.6"/><path d="M682.2 134.5L681.2 136.5M690.9 139.4L690.0 141.3" stroke="#8a8a8a" stroke-width="0.7" fill="none"/><polygon points="675.6,147.2 674.7,149.1 683.4,154.0 684.4,152.0" fill="#fafafa" stroke="#fafafa" stroke-width="0.6"/><path d="M675.6 147.2L674.7 149.1M684.4 152.0L683.4 154.0" stroke="#8a8a8a" stroke-width="0.7" fill="none"/><polygon points="659.4,118.5 658.4,120.5 667.2,125.3 668.1,123.4" fill="#ffffff" stroke="#ffffff" stroke-width="0.6"/><path d="M659.4 118.5L658.4 120.5M668.1 123.4L667.2 125.3" stroke="#8a8a8a" stroke-width="0.7" fill="none"/><polygon points="664.7,138.2 663.7,140.2 672.5,145.0 673.5,143.0" fill="#ffffff" stroke="#ffffff" stroke-width="0.6"/><path d="M664.7 138.2L663.7 140.2M673.5 143.0L672.5 145.0" stroke="#8a8a8a" stroke-width="0.7" fill="none"/><polygon points="670.3,127.5 669.3,129.6 678.0,134.3 679.0,132.3" fill="#ffffff" stroke="#ffffff" stroke-width="0.6"/><path d="M670.3 127.5L669.3 129.6M679.0 132.3L678.0 134.3" stroke="#8a8a8a" stroke-width="0.7" fill="none"/><polygon points="653.8,129.2 652.8,131.2 661.6,136.0 662.6,133.9" fill="#ffffff" stroke="#ffffff" stroke-width="0.6"/><path d="M653.8 129.2L652.8 131.2M662.6 133.9L661.6 136.0" stroke="#8a8a8a" stroke-width="0.7" fill="none"/><polygon points="681.2,136.5 680.1,138.6 688.9,143.3 690.0,141.3" fill="#ffffff" stroke="#ffffff" stroke-width="0.6"/><path d="M681.2 136.5L680.1 138.6M690.0 141.3L688.9 143.3" stroke="#8a8a8a" stroke-width="0.7" fill="none"/><polygon points="676.7,145.2 675.6,147.2 684.4,152.0 685.5,149.9" fill="#ffffff" stroke="#ffffff" stroke-width="0.6"/><path d="M676.7 145.2L675.6 147.2M685.5 149.9L684.4 152.0" stroke="#8a8a8a" stroke-width="0.7" fill="none"/><polygon points="658.4,120.5 657.3,122.7 666.1,127.4 667.2,125.3" fill="#ffffff" stroke="#ffffff" stroke-width="0.6"/><path d="M658.4 120.5L657.3 122.7M667.2 125.3L666.1 127.4" stroke="#8a8a8a" stroke-width="0.7" fill="none"/><polygon points="665.8,136.1 664.7,138.2 673.5,143.0 674.6,140.8" fill="#ffffff" stroke="#ffffff" stroke-width="0.6"/><path d="M665.8 136.1L664.7 138.2M674.6 140.8L673.5 143.0" stroke="#8a8a8a" stroke-width="0.7" fill="none"/><polygon points="669.3,129.6 668.1,131.7 676.9,136.4 678.0,134.3" fill="#ffffff" stroke="#ffffff" stroke-width="0.6"/><path d="M669.3 129.6L668.1 131.7M678.0 134.3L676.9 136.4" stroke="#8a8a8a" stroke-width="0.7" fill="none"/><polygon points="654.9,127.1 653.8,129.2 662.6,133.9 663.8,131.8" fill="#ffffff" stroke="#ffffff" stroke-width="0.6"/><path d="M654.9 127.1L653.8 129.2M663.8 131.8L662.6 133.9" stroke="#8a8a8a" stroke-width="0.7" fill="none"/><polygon points="680.1,138.6 679.0,140.8 687.8,145.5 688.9,143.3" fill="#ffffff" stroke="#ffffff" stroke-width="0.6"/><path d="M680.1 138.6L679.0 140.8M688.9 143.3L687.8 145.5" stroke="#8a8a8a" stroke-width="0.7" fill="none"/><polygon points="677.8,143.0 676.7,145.2 685.5,149.9 686.6,147.7" fill="#ffffff" stroke="#ffffff" stroke-width="0.6"/><path d="M677.8 143.0L676.7 145.2M686.6 147.7L685.5 149.9" stroke="#8a8a8a" stroke-width="0.7" fill="none"/><polygon points="657.3,122.7 656.1,124.9 664.9,129.5 666.1,127.4" fill="#ffffff" stroke="#ffffff" stroke-width="0.6"/><path d="M657.3 122.7L656.1 124.9M666.1 127.4L664.9 129.5" stroke="#8a8a8a" stroke-width="0.7" fill="none"/><polygon points="667.0,133.9 665.8,136.1 674.6,140.8 675.8,138.6" fill="#ffffff" stroke="#ffffff" stroke-width="0.6"/><path d="M667.0 133.9L665.8 136.1M675.8 138.6L674.6 140.8" stroke="#8a8a8a" stroke-width="0.7" fill="none"/><polygon points="668.1,131.7 667.0,133.9 675.8,138.6 676.9,136.4" fill="#ffffff" stroke="#ffffff" stroke-width="0.6"/><path d="M668.1 131.7L667.0 133.9M676.9 136.4L675.8 138.6" stroke="#8a8a8a" stroke-width="0.7" fill="none"/><polygon points="656.1,124.9 654.9,127.1 663.8,131.8 664.9,129.5" fill="#ffffff" stroke="#ffffff" stroke-width="0.6"/><path d="M656.1 124.9L654.9 127.1M664.9 129.5L663.8 131.8" stroke="#8a8a8a" stroke-width="0.7" fill="none"/><polygon points="679.0,140.8 677.8,143.0 686.6,147.7 687.8,145.5" fill="#ffffff" stroke="#ffffff" stroke-width="0.6"/><path d="M679.0 140.8L677.8 143.0M687.8 145.5L686.6 147.7" stroke="#8a8a8a" stroke-width="0.7" fill="none"/>
<path d="M556 84 L566 88 L578 86 L590 90 L600 88 L612 92 L626 90 L638 96" fill="none" stroke="#8c8c8c" stroke-width="3.0"/>
<path d="M556 84 L566 88 L578 86 L590 90 L600 88 L612 92 L626 90 L638 96" fill="none" stroke="#e6e6e6" stroke-width="2.0"/>
<path d="M552 96 L564 100 L576 96 L590 100 L604 98 L616 104 L630 102" fill="none" stroke="#8c8c8c" stroke-width="3.0"/>
<path d="M552 96 L564 100 L576 96 L590 100 L604 98 L616 104 L630 102" fill="none" stroke="#e6e6e6" stroke-width="2.0"/>
<path d="M560 106 L572 110 L586 108 L598 114 L612 112 L624 118 L636 116" fill="none" stroke="#8c8c8c" stroke-width="3.0"/>
<path d="M560 106 L572 110 L586 108 L598 114 L612 112 L624 118 L636 116" fill="none" stroke="#e6e6e6" stroke-width="2.0"/>
<path d="M548 120 L556 112 L566 118 L574 112" fill="none" stroke="#8c8c8c" stroke-width="3.0"/>
<path d="M548 120 L556 112 L566 118 L574 112" fill="none" stroke="#e6e6e6" stroke-width="2.0"/>
<path d="M600 100 L602 114 L598 126" fill="none" stroke="#8c8c8c" stroke-width="3.0"/>
<path d="M600 100 L602 114 L598 126" fill="none" stroke="#e6e6e6" stroke-width="2.0"/>
<path d="M616 96 L618 110 L614 122" fill="none" stroke="#8c8c8c" stroke-width="3.0"/>
<path d="M616 96 L618 110 L614 122" fill="none" stroke="#e6e6e6" stroke-width="2.0"/>
<path d="M566 90 L568 102 L564 112" fill="none" stroke="#8c8c8c" stroke-width="3.0"/>
<path d="M566 90 L568 102 L564 112" fill="none" stroke="#e6e6e6" stroke-width="2.0"/>
<path d="M590 92 L592 104" fill="none" stroke="#8c8c8c" stroke-width="3.0"/>
<path d="M590 92 L592 104" fill="none" stroke="#e6e6e6" stroke-width="2.0"/>
<path d="M560 150 L564 160 L560 172 L566 182" fill="none" stroke="#8c8c8c" stroke-width="3.0"/>
<path d="M560 150 L564 160 L560 172 L566 182" fill="none" stroke="#e6e6e6" stroke-width="2.0"/>
<path d="M580 140 L584 152 L580 166 L586 178" fill="none" stroke="#8c8c8c" stroke-width="3.0"/>
<path d="M580 140 L584 152 L580 166 L586 178" fill="none" stroke="#e6e6e6" stroke-width="2.0"/>
<path d="M596 150 L604 156 L612 152 L620 158" fill="none" stroke="#8c8c8c" stroke-width="3.0"/>
<path d="M596 150 L604 156 L612 152 L620 158" fill="none" stroke="#e6e6e6" stroke-width="2.0"/>
<path d="M600 160 L596 172 L604 182" fill="none" stroke="#8c8c8c" stroke-width="3.0"/>
<path d="M600 160 L596 172 L604 182" fill="none" stroke="#e6e6e6" stroke-width="2.0"/>
<path d="M546 130 L552 140 L548 156 L552 170" fill="none" stroke="#8c8c8c" stroke-width="3.0"/>
<path d="M546 130 L552 140 L548 156 L552 170" fill="none" stroke="#e6e6e6" stroke-width="2.0"/>
<path d="M574 144 L576 158" fill="none" stroke="#8c8c8c" stroke-width="3.0"/>
<path d="M574 144 L576 158" fill="none" stroke="#e6e6e6" stroke-width="2.0"/>
<path d="M622 124 L630 132 L640 130 L646 138" fill="none" stroke="#8c8c8c" stroke-width="3.0"/>
<path d="M622 124 L630 132 L640 130 L646 138" fill="none" stroke="#e6e6e6" stroke-width="2.0"/>
<path d="M626 140 L634 146 L642 144" fill="none" stroke="#8c8c8c" stroke-width="3.0"/>
<path d="M626 140 L634 146 L642 144" fill="none" stroke="#e6e6e6" stroke-width="2.0"/>
<path d="M606 106 L611 112" fill="none" stroke="#444" stroke-width="2.0"/>
<path d="M549 57 L554 62 L559 65 L568 63 L575 67 L585 64 L595 68 L596 80 L587 80 L579 81" fill="none" stroke="#3f6b30" stroke-width="3.4"/>
<path d="M549 57 L554 62 L559 65 L568 63 L575 67 L585 64 L595 68 L596 80 L587 80 L579 81" fill="none" stroke="#6aa552" stroke-width="2.4"/>
<path d="M559 65 L561 78" fill="none" stroke="#3f6b30" stroke-width="3.4"/>
<path d="M559 65 L561 78" fill="none" stroke="#6aa552" stroke-width="2.4"/>
<path d="M596 68 L602 66" fill="none" stroke="#e03030" stroke-width="2.4"/>
<path d="M596 80 L600 86" fill="none" stroke="#3a40c0" stroke-width="2.2"/>
<path d="M578 81 L574 80" fill="none" stroke="#e03030" stroke-width="2.2"/>
<path d="M576 122 L582 128 L590 130 L596 126" fill="none" stroke="#8c8c8c" stroke-width="3.0"/>
<path d="M576 122 L582 128 L590 130 L596 126" fill="none" stroke="#d8d8d8" stroke-width="2.0"/>
<path d="M573 119 L577 123" fill="none" stroke="#e03030" stroke-width="2.2"/>
<path d="M590 130 L594 136" fill="none" stroke="#e03030" stroke-width="2.2"/>
<path d="M596 126 L603 124" fill="none" stroke="#e03030" stroke-width="2.2"/>
<path d="M600 114 L600 122 L601 134 L606 128 L594 128" fill="none" stroke="#f08a20" stroke-width="2.2"/>
<path d="M600 114 L601 108" fill="none" stroke="#e03030" stroke-width="2.2"/>
<path d="M552 146 L558 143 L562 139 L566 137 L570 137" fill="none" stroke="#6470e0" stroke-width="2.6"/>
<path d="M556 150 L562 147 L566 142" fill="none" stroke="#3a44d0" stroke-width="2.6"/>
<path d="M562 139 L564 134" fill="none" stroke="#e03030" stroke-width="1.6"/>
<path d="M620 154 L628 160 L638 156 L642 150" fill="none" stroke="#b84a6a" stroke-width="2.6"/>
<path d="M628 160 L630 170 L624 178" fill="none" stroke="#b84a6a" stroke-width="2.6"/>
<path d="M630 165 L642 166" fill="none" stroke="#b84a6a" stroke-width="2.4"/>
<path d="M638 156 L638 146" fill="none" stroke="#c04060" stroke-width="2.0"/>
<path d="M618 150 L622 154" fill="none" stroke="#3a40d0" stroke-width="2.0"/>
</g>
<text x="568.60" y="78.20" font-size="9" font-weight="bold" text-anchor="start" fill="#000" >T19S</text>
<text x="567.00" y="150.80" font-size="8.8" font-weight="bold" text-anchor="start" fill="#000" >G171A</text>
<text x="612.20" y="151.40" font-size="9.2" font-weight="bold" text-anchor="start" fill="#000" >V206I</text>
<ellipse cx="411.7" cy="94.6" rx="43.1" ry="39.3" fill="none" stroke="#111" stroke-width="1.3" stroke-dasharray="3.6 3.1"/>
<line x1="513.10" y1="16.80" x2="395.00" y2="56.50" stroke="#111" stroke-width="1.3" stroke-dasharray="4.6 4.2" stroke-dashoffset="0.5"/>
<line x1="516.60" y1="184.10" x2="398.00" y2="132.20" stroke="#111" stroke-width="1.3" stroke-dasharray="4.6 4.2"/>
<line x1="515.30" y1="16.40" x2="682.60" y2="16.40" stroke="#111" stroke-width="1.3" stroke-dasharray="4.6 4.55" stroke-dashoffset="5.65"/>
<line x1="515.30" y1="16.40" x2="515.30" y2="184.10" stroke="#111" stroke-width="1.3" stroke-dasharray="4.6 4.55" stroke-dashoffset="7.85"/>
<line x1="515.30" y1="184.10" x2="682.60" y2="184.10" stroke="#111" stroke-width="1.3" stroke-dasharray="4.6 4.55" stroke-dashoffset="2.15"/>
<line x1="682.60" y1="16.40" x2="682.60" y2="184.10" stroke="#111" stroke-width="1.3" stroke-dasharray="4.6 4.55" stroke-dashoffset="8.05"/>
</svg>
</body></html>
